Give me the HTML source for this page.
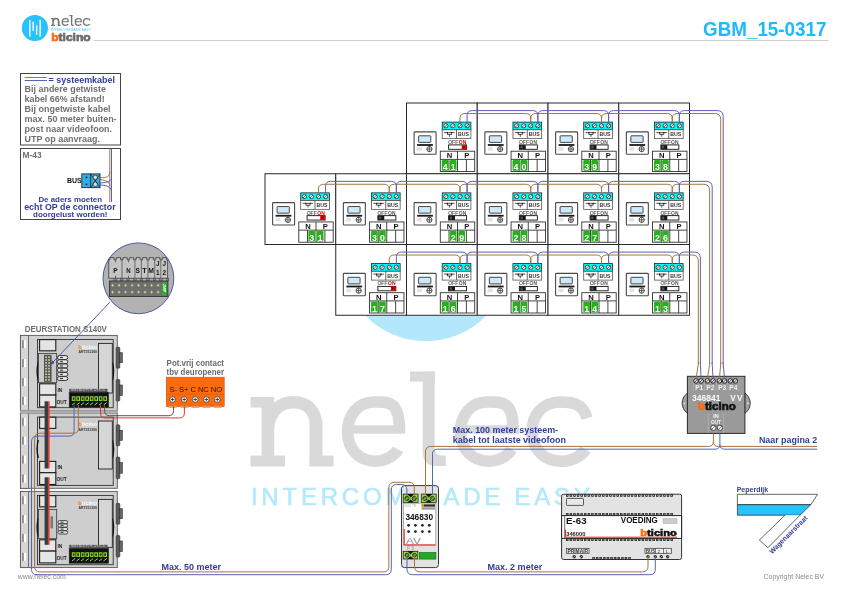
<!DOCTYPE html>
<html><head><meta charset="utf-8"><style>
html,body{margin:0;padding:0;background:#fff;width:841px;height:595px;overflow:hidden}
svg{display:block;will-change:transform}
text{font-family:"Liberation Sans",sans-serif}
</style></head><body>
<svg width="841" height="595" viewBox="0 0 841 595">
<rect x="0" y="0" width="841" height="595" fill="#fff"/>
<clipPath id="cb"><rect x="0" y="315.25" width="841" height="100"/></clipPath>
<circle cx="425.8" cy="256.8" r="84.3" fill="#b3e7fb" clip-path="url(#cb)"/>
<g fill="#d9d9d9" stroke="none">
<rect x="250.5" y="397" width="23.5" height="10.5"/>
<rect x="261.6" y="397" width="12.6" height="69"/>
<rect x="250.5" y="455.5" width="34.5" height="11"/>
<rect x="309.6" y="420" width="12.8" height="46"/>
<rect x="309.6" y="455.5" width="24" height="11"/>
</g>
<path d="M267.8 428 C270 410 281 402.3 293 402.3 C309 402.3 316 412 316 426 L316 460" fill="none" stroke="#d9d9d9" stroke-width="12.4"/>
<rect x="347.6" y="425.3" width="57.599999999999994" height="8.4" fill="#d9d9d9"/>
<path d="M399.4 429.6 C399.4 400.0 387.745 402.0 373.5 402.0 C357.96 402.0 347.6 415.32000000000005 347.6 431.6 C347.6 449.36 359.255 461.20000000000005 375.5 461.20000000000005 C387.745 461.20000000000005 395.515 453.8 398.105 449.36" fill="none" stroke="#d9d9d9" stroke-width="11.6"/>
<g fill="#d9d9d9">
<rect x="410.1" y="371.5" width="24.6" height="10.1"/>
<path d="M422.7 371.5 H434.7 V449 Q434.7 455.5 441 455.5 H445.8 V465.9 H436 Q422.7 465.9 422.7 452 Z"/>
</g>
<rect x="460.5" y="425.3" width="58.4" height="8.4" fill="#d9d9d9"/>
<path d="M513.1 429.6 C513.1 400.0 501.265 402.0 486.8 402.0 C471.02000000000004 402.0 460.5 415.32000000000005 460.5 431.6 C460.5 449.36 472.33500000000004 461.20000000000005 488.8 461.20000000000005 C501.265 461.20000000000005 509.15500000000003 453.8 511.785 449.36" fill="none" stroke="#d9d9d9" stroke-width="11.6"/>
<path d="M587.0 418.28000000000003 C582.875 402.0 570.5 402.0 559.5 402.0 C543.0 402.0 532.0 415.32000000000005 532.0 431.6 C532.0 449.36 544.375 461.20000000000005 561.5 461.20000000000005 C574.625 461.20000000000005 582.875 453.8 585.625 449.36" fill="none" stroke="#d9d9d9" stroke-width="11.6"/>
<text x="250.9" y="504.5" font-size="24" fill="#b2e9fd" stroke="#b2e9fd" stroke-width="0.55" font-weight="normal" textLength="339" lengthAdjust="spacing">INTERCOM MADE EASY</text>
<circle cx="34.9" cy="28" r="13.1" fill="#27c1fe"/>
<rect x="29.150000000000002" y="19.8" width="1.4" height="16.900000000000002" fill="#fff"/>
<rect x="32.449999999999996" y="21.8" width="1.4" height="9.099999999999998" fill="#fff"/>
<rect x="35.949999999999996" y="25.4" width="1.4" height="9.300000000000004" fill="#fff"/>
<rect x="39.449999999999996" y="19.8" width="1.4" height="16.900000000000002" fill="#fff"/>
<g transform="translate(22.094 -27.881) scale(0.1155)">
<g fill="#737373" stroke="none">
<rect x="250.5" y="397" width="23.5" height="10.5"/>
<rect x="261.6" y="397" width="12.6" height="69"/>
<rect x="250.5" y="455.5" width="34.5" height="11"/>
<rect x="309.6" y="420" width="12.8" height="46"/>
<rect x="309.6" y="455.5" width="24" height="11"/>
</g>
<path d="M267.8 428 C270 410 281 402.3 293 402.3 C309 402.3 316 412 316 426 L316 460" fill="none" stroke="#737373" stroke-width="12.4"/>
<rect x="347.6" y="425.3" width="57.599999999999994" height="8.4" fill="#737373"/>
<path d="M399.4 429.6 C399.4 400.0 387.745 402.0 373.5 402.0 C357.96 402.0 347.6 415.32000000000005 347.6 431.6 C347.6 449.36 359.255 461.20000000000005 375.5 461.20000000000005 C387.745 461.20000000000005 395.515 453.8 398.105 449.36" fill="none" stroke="#737373" stroke-width="11.6"/>
<g fill="#737373">
<rect x="410.1" y="371.5" width="24.6" height="10.1"/>
<path d="M422.7 371.5 H434.7 V449 Q434.7 455.5 441 455.5 H445.8 V465.9 H436 Q422.7 465.9 422.7 452 Z"/>
</g>
<rect x="460.5" y="425.3" width="58.4" height="8.4" fill="#737373"/>
<path d="M513.1 429.6 C513.1 400.0 501.265 402.0 486.8 402.0 C471.02000000000004 402.0 460.5 415.32000000000005 460.5 431.6 C460.5 449.36 472.33500000000004 461.20000000000005 488.8 461.20000000000005 C501.265 461.20000000000005 509.15500000000003 453.8 511.785 449.36" fill="none" stroke="#737373" stroke-width="11.6"/>
<path d="M587.0 418.28000000000003 C582.875 402.0 570.5 402.0 559.5 402.0 C543.0 402.0 532.0 415.32000000000005 532.0 431.6 C532.0 449.36 544.375 461.20000000000005 561.5 461.20000000000005 C574.625 461.20000000000005 582.875 453.8 585.625 449.36" fill="none" stroke="#737373" stroke-width="11.6"/>
</g>
<text x="51" y="30.6" font-size="2.6" fill="#4fc3f7" textLength="40" lengthAdjust="spacingAndGlyphs">INTERCOM MADE EASY</text>
<text x="51.3" y="40.8" font-size="10.5" font-weight="bold" fill="#6b6b6b" stroke="#6b6b6b" stroke-width="0.7" textLength="39.3" lengthAdjust="spacingAndGlyphs"><tspan fill="#ff6a13" stroke="#ff6a13">b</tspan>ticino</text>
<line x1="93.7" y1="40.5" x2="828.5" y2="40.5" stroke="#cfcfcf" stroke-width="1"/>
<text x="826.5" y="36" font-size="19.5" font-weight="bold" fill="#1fbaf9" text-anchor="end" textLength="123.5" lengthAdjust="spacingAndGlyphs">GBM_15-0317</text>
<rect x="20.5" y="73.5" width="100" height="71.5" fill="#fff" stroke="#444" stroke-width="1"/>
<line x1="24.7" y1="77.5" x2="46.9" y2="77.5" stroke="#a8733d" stroke-width="1"/>
<line x1="24.7" y1="80.5" x2="46.9" y2="80.5" stroke="#5863b5" stroke-width="1"/>
<text x="48.6" y="82.8" font-size="8.6" fill="#313c98" font-weight="bold" textLength="66.4" lengthAdjust="spacingAndGlyphs" >= systeemkabel</text>
<text x="24.6" y="91.6" font-size="8.5" fill="#6f6f6f" font-weight="bold" textLength="81.3" lengthAdjust="spacingAndGlyphs" >Bij andere getwiste</text>
<text x="24.6" y="101.7" font-size="8.5" fill="#6f6f6f" font-weight="bold" textLength="80" lengthAdjust="spacingAndGlyphs" >kabel 66% afstand!</text>
<text x="24.6" y="111.6" font-size="8.5" fill="#6f6f6f" font-weight="bold" textLength="86" lengthAdjust="spacingAndGlyphs" >Bij ongetwiste kabel</text>
<text x="24.6" y="121.8" font-size="8.5" fill="#6f6f6f" font-weight="bold" textLength="92" lengthAdjust="spacingAndGlyphs" >max. 50 meter buiten-</text>
<text x="24.6" y="132.2" font-size="8.5" fill="#6f6f6f" font-weight="bold" textLength="87.4" lengthAdjust="spacingAndGlyphs" >post naar videofoon.</text>
<text x="24.6" y="142.3" font-size="8.5" fill="#6f6f6f" font-weight="bold" textLength="75.3" lengthAdjust="spacingAndGlyphs" >UTP op aanvraag.</text>
<rect x="20.5" y="148.5" width="100" height="71" fill="#fff" stroke="#444" stroke-width="1"/>
<text x="22.6" y="157.9" font-size="8.4" fill="#6f6f6f" font-weight="bold" text-anchor="start" >M-43</text>
<line x1="109.8" y1="149" x2="109.8" y2="202" stroke="#a8733d" stroke-width="1"/>
<line x1="111.5" y1="149" x2="111.5" y2="202" stroke="#5863b5" stroke-width="1"/>
<path d="M99 177.5 C104 178 109.8 178 109.8 172" fill="none" stroke="#a8733d" stroke-width="1"/>
<path d="M99 179.5 C104 180 109.8 181 109.8 186" fill="none" stroke="#a8733d" stroke-width="1"/>
<path d="M99 183 C104 183 111.5 182 111.5 178" fill="none" stroke="#5863b5" stroke-width="1"/>
<path d="M99 185 C104 185 111.5 186 111.5 191" fill="none" stroke="#5863b5" stroke-width="1"/>
<rect x="81.8" y="173.9" width="18.2" height="13.8" fill="#2aaee6" stroke="#1a1a1a" stroke-width="0.8"/>
<line x1="90.6" y1="173.9" x2="90.6" y2="187.7" stroke="#1a1a1a" stroke-width="0.8"/>
<circle cx="86.5" cy="177.3" r="0.9" fill="#111"/><circle cx="86.5" cy="184.3" r="0.9" fill="#111"/>
<circle cx="95.3" cy="177.5" r="2.3" fill="#ddd" stroke="#222" stroke-width="0.6"/>
<circle cx="95.3" cy="184.2" r="2.3" fill="#ddd" stroke="#222" stroke-width="0.6"/>
<path d="M90.6 173.9 L100 187.7 M100 173.9 L90.6 187.7" stroke="#1a1a1a" stroke-width="0.6"/>
<text x="67" y="183" font-size="7" fill="#111" font-weight="bold" text-anchor="start" >BUS</text>
<text x="38.4" y="201.9" font-size="7.6" fill="#313c98" font-weight="bold" textLength="63.6" lengthAdjust="spacingAndGlyphs" >De aders moeten</text>
<text x="24.2" y="209.6" font-size="8.3" fill="#313c98" font-weight="bold" textLength="91.5" lengthAdjust="spacingAndGlyphs" >echt OP de connector</text>
<text x="33.1" y="217.3" font-size="7.6" fill="#313c98" font-weight="bold" textLength="74.3" lengthAdjust="spacingAndGlyphs" >doorgelust worden!</text>
<rect x="406.5" y="103.0" width="70.75" height="70.75" fill="#fff" stroke="#2a2a2a" stroke-width="1"/>
<rect x="414.1" y="131.9" width="22" height="22.3" rx="0.8" fill="#fff" stroke="#4a4a4a" stroke-width="1.1"/>
<rect x="418.6" y="135.8" width="12.2" height="6.6" rx="0.6" fill="#cde9fa" stroke="#333" stroke-width="0.9"/>
<rect x="417.1" y="144.1" width="15.8" height="1.8" fill="#1a1a1a"/>
<rect x="417.0" y="147.1" width="4.9" height="3.6" fill="#e2e2e2"/>
<circle cx="429.4" cy="149.1" r="2.6" fill="#fff" stroke="#222" stroke-width="0.8"/>
<path d="M429.4 145.9 V151.9 M426.8 149.1 H432.0" stroke="#222" stroke-width="0.7"/>
<rect x="442.2" y="122.1" width="28.7" height="7.7" fill="#00fafa" stroke="#222" stroke-width="0.8"/>
<circle cx="445.9" cy="125.8" r="2.1" fill="#fff" stroke="#222" stroke-width="0.8"/><line x1="444.42999999999995" y1="127.27" x2="447.37" y2="124.33" stroke="#222" stroke-width="0.7"/>
<circle cx="452.9" cy="125.8" r="2.1" fill="#fff" stroke="#222" stroke-width="0.8"/><line x1="451.42999999999995" y1="127.27" x2="454.37" y2="124.33" stroke="#222" stroke-width="0.7"/>
<circle cx="460.0" cy="125.8" r="2.1" fill="#fff" stroke="#222" stroke-width="0.8"/><line x1="458.53" y1="127.27" x2="461.47" y2="124.33" stroke="#222" stroke-width="0.7"/>
<circle cx="467.1" cy="125.8" r="2.1" fill="#fff" stroke="#222" stroke-width="0.8"/><line x1="465.63" y1="127.27" x2="468.57000000000005" y2="124.33" stroke="#222" stroke-width="0.7"/>
<rect x="442.2" y="129.8" width="28.7" height="8.8" fill="#fff" stroke="#555" stroke-width="0.8"/>
<line x1="456.5" y1="129.8" x2="456.5" y2="138.6" stroke="#444" stroke-width="0.8"/>
<path d="M444.1 132.6 H454.6 M447.4 132.6 V134.5 H451.6 V132.6 M449.5 134.5 V136.8" stroke="#1a1a1a" stroke-width="0.75" fill="none"/>
<circle cx="447.4" cy="132.6" r="0.6" fill="#000"/><circle cx="451.6" cy="132.6" r="0.6" fill="#000"/>
<text x="457.9" y="136.4" font-size="5.2" font-weight="bold" fill="#333" textLength="11" lengthAdjust="spacingAndGlyphs">BUS</text>
<text x="448.2" y="143.9" font-size="4.9" font-weight="normal" fill="#555" stroke="#555" stroke-width="0.15" textLength="10" lengthAdjust="spacingAndGlyphs">OFF</text>
<text x="458.8" y="143.9" font-size="4.9" font-weight="bold" fill="#e00000" textLength="7.4" lengthAdjust="spacingAndGlyphs">ON</text>
<rect x="448.6" y="144.9" width="18" height="4.4" fill="#fff" stroke="#111" stroke-width="0.9"/>
<rect x="461.7" y="145.1" width="4.9" height="4.1" fill="#d00"/>
<rect x="462.8" y="146.0" width="1.6" height="1.6" fill="#600"/>
<rect x="440.3" y="151.2" width="34.4" height="20.3" fill="#fff" stroke="#333" stroke-width="0.9"/>
<line x1="440.3" y1="159.4" x2="474.7" y2="159.4" stroke="#333" stroke-width="0.9"/>
<line x1="457.5" y1="151.2" x2="457.5" y2="171.5" stroke="#333" stroke-width="0.9"/>
<line x1="449.0" y1="159.4" x2="449.0" y2="171.5" stroke="#333" stroke-width="0.9"/>
<line x1="466.4" y1="159.4" x2="466.4" y2="171.5" stroke="#333" stroke-width="0.9"/>
<text x="449.5" y="158.4" font-size="7.6" font-weight="bold" fill="#111" text-anchor="middle">N</text>
<text x="466.9" y="158.4" font-size="7.6" font-weight="bold" fill="#111" text-anchor="middle">P</text>
<rect x="441.8" y="160.1" width="6.6" height="10.7" rx="1.2" fill="#23b316"/>
<text x="445.1" y="170.0" font-size="8.8" font-weight="bold" fill="#fff" text-anchor="middle">4</text>
<rect x="449.9" y="160.1" width="6.6" height="10.7" rx="1.2" fill="#23b316"/>
<text x="453.2" y="170.0" font-size="8.8" font-weight="bold" fill="#fff" text-anchor="middle">1</text>
<rect x="477.25" y="103.0" width="70.75" height="70.75" fill="#fff" stroke="#2a2a2a" stroke-width="1"/>
<rect x="484.85" y="131.9" width="22" height="22.3" rx="0.8" fill="#fff" stroke="#4a4a4a" stroke-width="1.1"/>
<rect x="489.35" y="135.8" width="12.2" height="6.6" rx="0.6" fill="#cde9fa" stroke="#333" stroke-width="0.9"/>
<rect x="487.85" y="144.1" width="15.8" height="1.8" fill="#1a1a1a"/>
<rect x="487.75" y="147.1" width="4.9" height="3.6" fill="#e2e2e2"/>
<circle cx="500.15" cy="149.1" r="2.6" fill="#fff" stroke="#222" stroke-width="0.8"/>
<path d="M500.15 145.9 V151.9 M497.55 149.1 H502.75" stroke="#222" stroke-width="0.7"/>
<rect x="512.95" y="122.1" width="28.7" height="7.7" fill="#00fafa" stroke="#222" stroke-width="0.8"/>
<circle cx="516.65" cy="125.8" r="2.1" fill="#fff" stroke="#222" stroke-width="0.8"/><line x1="515.18" y1="127.27" x2="518.12" y2="124.33" stroke="#222" stroke-width="0.7"/>
<circle cx="523.65" cy="125.8" r="2.1" fill="#fff" stroke="#222" stroke-width="0.8"/><line x1="522.18" y1="127.27" x2="525.12" y2="124.33" stroke="#222" stroke-width="0.7"/>
<circle cx="530.75" cy="125.8" r="2.1" fill="#fff" stroke="#222" stroke-width="0.8"/><line x1="529.28" y1="127.27" x2="532.22" y2="124.33" stroke="#222" stroke-width="0.7"/>
<circle cx="537.85" cy="125.8" r="2.1" fill="#fff" stroke="#222" stroke-width="0.8"/><line x1="536.38" y1="127.27" x2="539.32" y2="124.33" stroke="#222" stroke-width="0.7"/>
<rect x="512.95" y="129.8" width="28.7" height="8.8" fill="#fff" stroke="#555" stroke-width="0.8"/>
<line x1="527.25" y1="129.8" x2="527.25" y2="138.6" stroke="#444" stroke-width="0.8"/>
<path d="M514.85 132.6 H525.35 M518.15 132.6 V134.5 H522.35 V132.6 M520.25 134.5 V136.8" stroke="#1a1a1a" stroke-width="0.75" fill="none"/>
<circle cx="518.15" cy="132.6" r="0.6" fill="#000"/><circle cx="522.35" cy="132.6" r="0.6" fill="#000"/>
<text x="528.65" y="136.4" font-size="5.2" font-weight="bold" fill="#333" textLength="11" lengthAdjust="spacingAndGlyphs">BUS</text>
<text x="518.95" y="143.9" font-size="4.9" font-weight="normal" fill="#555" stroke="#555" stroke-width="0.15" textLength="10" lengthAdjust="spacingAndGlyphs">OFF</text>
<text x="529.55" y="143.9" font-size="4.9" font-weight="bold" fill="#555" textLength="7.4" lengthAdjust="spacingAndGlyphs">ON</text>
<rect x="519.35" y="144.9" width="18" height="4.4" fill="#fff" stroke="#111" stroke-width="0.9"/>
<rect x="519.55" y="145.1" width="6.2" height="4.1" fill="#161616"/>
<rect x="520.55" y="145.9" width="2.2" height="2.4" fill="#555"/>
<rect x="511.05" y="151.2" width="34.4" height="20.3" fill="#fff" stroke="#333" stroke-width="0.9"/>
<line x1="511.05" y1="159.4" x2="545.45" y2="159.4" stroke="#333" stroke-width="0.9"/>
<line x1="528.25" y1="151.2" x2="528.25" y2="171.5" stroke="#333" stroke-width="0.9"/>
<line x1="519.75" y1="159.4" x2="519.75" y2="171.5" stroke="#333" stroke-width="0.9"/>
<line x1="537.15" y1="159.4" x2="537.15" y2="171.5" stroke="#333" stroke-width="0.9"/>
<text x="520.25" y="158.4" font-size="7.6" font-weight="bold" fill="#111" text-anchor="middle">N</text>
<text x="537.65" y="158.4" font-size="7.6" font-weight="bold" fill="#111" text-anchor="middle">P</text>
<rect x="512.55" y="160.1" width="6.6" height="10.7" rx="1.2" fill="#23b316"/>
<text x="515.85" y="170.0" font-size="8.8" font-weight="bold" fill="#fff" text-anchor="middle">4</text>
<rect x="520.65" y="160.1" width="6.6" height="10.7" rx="1.2" fill="#23b316"/>
<text x="523.95" y="170.0" font-size="8.8" font-weight="bold" fill="#fff" text-anchor="middle">0</text>
<rect x="548.0" y="103.0" width="70.75" height="70.75" fill="#fff" stroke="#2a2a2a" stroke-width="1"/>
<rect x="555.6" y="131.9" width="22" height="22.3" rx="0.8" fill="#fff" stroke="#4a4a4a" stroke-width="1.1"/>
<rect x="560.1" y="135.8" width="12.2" height="6.6" rx="0.6" fill="#cde9fa" stroke="#333" stroke-width="0.9"/>
<rect x="558.6" y="144.1" width="15.8" height="1.8" fill="#1a1a1a"/>
<rect x="558.5" y="147.1" width="4.9" height="3.6" fill="#e2e2e2"/>
<circle cx="570.9" cy="149.1" r="2.6" fill="#fff" stroke="#222" stroke-width="0.8"/>
<path d="M570.9 145.9 V151.9 M568.3 149.1 H573.5" stroke="#222" stroke-width="0.7"/>
<rect x="583.7" y="122.1" width="28.7" height="7.7" fill="#00fafa" stroke="#222" stroke-width="0.8"/>
<circle cx="587.4" cy="125.8" r="2.1" fill="#fff" stroke="#222" stroke-width="0.8"/><line x1="585.93" y1="127.27" x2="588.87" y2="124.33" stroke="#222" stroke-width="0.7"/>
<circle cx="594.4" cy="125.8" r="2.1" fill="#fff" stroke="#222" stroke-width="0.8"/><line x1="592.93" y1="127.27" x2="595.87" y2="124.33" stroke="#222" stroke-width="0.7"/>
<circle cx="601.5" cy="125.8" r="2.1" fill="#fff" stroke="#222" stroke-width="0.8"/><line x1="600.03" y1="127.27" x2="602.97" y2="124.33" stroke="#222" stroke-width="0.7"/>
<circle cx="608.6" cy="125.8" r="2.1" fill="#fff" stroke="#222" stroke-width="0.8"/><line x1="607.13" y1="127.27" x2="610.07" y2="124.33" stroke="#222" stroke-width="0.7"/>
<rect x="583.7" y="129.8" width="28.7" height="8.8" fill="#fff" stroke="#555" stroke-width="0.8"/>
<line x1="598.0" y1="129.8" x2="598.0" y2="138.6" stroke="#444" stroke-width="0.8"/>
<path d="M585.6 132.6 H596.1 M588.9 132.6 V134.5 H593.1 V132.6 M591.0 134.5 V136.8" stroke="#1a1a1a" stroke-width="0.75" fill="none"/>
<circle cx="588.9" cy="132.6" r="0.6" fill="#000"/><circle cx="593.1" cy="132.6" r="0.6" fill="#000"/>
<text x="599.4" y="136.4" font-size="5.2" font-weight="bold" fill="#333" textLength="11" lengthAdjust="spacingAndGlyphs">BUS</text>
<text x="589.7" y="143.9" font-size="4.9" font-weight="normal" fill="#555" stroke="#555" stroke-width="0.15" textLength="10" lengthAdjust="spacingAndGlyphs">OFF</text>
<text x="600.3" y="143.9" font-size="4.9" font-weight="bold" fill="#555" textLength="7.4" lengthAdjust="spacingAndGlyphs">ON</text>
<rect x="590.1" y="144.9" width="18" height="4.4" fill="#fff" stroke="#111" stroke-width="0.9"/>
<rect x="590.3" y="145.1" width="6.2" height="4.1" fill="#161616"/>
<rect x="591.3" y="145.9" width="2.2" height="2.4" fill="#555"/>
<rect x="581.8" y="151.2" width="34.4" height="20.3" fill="#fff" stroke="#333" stroke-width="0.9"/>
<line x1="581.8" y1="159.4" x2="616.2" y2="159.4" stroke="#333" stroke-width="0.9"/>
<line x1="599.0" y1="151.2" x2="599.0" y2="171.5" stroke="#333" stroke-width="0.9"/>
<line x1="590.5" y1="159.4" x2="590.5" y2="171.5" stroke="#333" stroke-width="0.9"/>
<line x1="607.9" y1="159.4" x2="607.9" y2="171.5" stroke="#333" stroke-width="0.9"/>
<text x="591.0" y="158.4" font-size="7.6" font-weight="bold" fill="#111" text-anchor="middle">N</text>
<text x="608.4" y="158.4" font-size="7.6" font-weight="bold" fill="#111" text-anchor="middle">P</text>
<rect x="583.3" y="160.1" width="6.6" height="10.7" rx="1.2" fill="#23b316"/>
<text x="586.6" y="170.0" font-size="8.8" font-weight="bold" fill="#fff" text-anchor="middle">3</text>
<rect x="591.4" y="160.1" width="6.6" height="10.7" rx="1.2" fill="#23b316"/>
<text x="594.7" y="170.0" font-size="8.8" font-weight="bold" fill="#fff" text-anchor="middle">9</text>
<rect x="618.75" y="103.0" width="70.75" height="70.75" fill="#fff" stroke="#2a2a2a" stroke-width="1"/>
<rect x="626.35" y="131.9" width="22" height="22.3" rx="0.8" fill="#fff" stroke="#4a4a4a" stroke-width="1.1"/>
<rect x="630.85" y="135.8" width="12.2" height="6.6" rx="0.6" fill="#cde9fa" stroke="#333" stroke-width="0.9"/>
<rect x="629.35" y="144.1" width="15.8" height="1.8" fill="#1a1a1a"/>
<rect x="629.25" y="147.1" width="4.9" height="3.6" fill="#e2e2e2"/>
<circle cx="641.65" cy="149.1" r="2.6" fill="#fff" stroke="#222" stroke-width="0.8"/>
<path d="M641.65 145.9 V151.9 M639.05 149.1 H644.25" stroke="#222" stroke-width="0.7"/>
<rect x="654.45" y="122.1" width="28.7" height="7.7" fill="#00fafa" stroke="#222" stroke-width="0.8"/>
<circle cx="658.15" cy="125.8" r="2.1" fill="#fff" stroke="#222" stroke-width="0.8"/><line x1="656.68" y1="127.27" x2="659.62" y2="124.33" stroke="#222" stroke-width="0.7"/>
<circle cx="665.15" cy="125.8" r="2.1" fill="#fff" stroke="#222" stroke-width="0.8"/><line x1="663.68" y1="127.27" x2="666.62" y2="124.33" stroke="#222" stroke-width="0.7"/>
<circle cx="672.25" cy="125.8" r="2.1" fill="#fff" stroke="#222" stroke-width="0.8"/><line x1="670.78" y1="127.27" x2="673.72" y2="124.33" stroke="#222" stroke-width="0.7"/>
<circle cx="679.35" cy="125.8" r="2.1" fill="#fff" stroke="#222" stroke-width="0.8"/><line x1="677.88" y1="127.27" x2="680.82" y2="124.33" stroke="#222" stroke-width="0.7"/>
<rect x="654.45" y="129.8" width="28.7" height="8.8" fill="#fff" stroke="#555" stroke-width="0.8"/>
<line x1="668.75" y1="129.8" x2="668.75" y2="138.6" stroke="#444" stroke-width="0.8"/>
<path d="M656.35 132.6 H666.85 M659.65 132.6 V134.5 H663.85 V132.6 M661.75 134.5 V136.8" stroke="#1a1a1a" stroke-width="0.75" fill="none"/>
<circle cx="659.65" cy="132.6" r="0.6" fill="#000"/><circle cx="663.85" cy="132.6" r="0.6" fill="#000"/>
<text x="670.15" y="136.4" font-size="5.2" font-weight="bold" fill="#333" textLength="11" lengthAdjust="spacingAndGlyphs">BUS</text>
<text x="660.45" y="143.9" font-size="4.9" font-weight="normal" fill="#555" stroke="#555" stroke-width="0.15" textLength="10" lengthAdjust="spacingAndGlyphs">OFF</text>
<text x="671.05" y="143.9" font-size="4.9" font-weight="bold" fill="#555" textLength="7.4" lengthAdjust="spacingAndGlyphs">ON</text>
<rect x="660.85" y="144.9" width="18" height="4.4" fill="#fff" stroke="#111" stroke-width="0.9"/>
<rect x="661.05" y="145.1" width="6.2" height="4.1" fill="#161616"/>
<rect x="662.05" y="145.9" width="2.2" height="2.4" fill="#555"/>
<rect x="652.55" y="151.2" width="34.4" height="20.3" fill="#fff" stroke="#333" stroke-width="0.9"/>
<line x1="652.55" y1="159.4" x2="686.95" y2="159.4" stroke="#333" stroke-width="0.9"/>
<line x1="669.75" y1="151.2" x2="669.75" y2="171.5" stroke="#333" stroke-width="0.9"/>
<line x1="661.25" y1="159.4" x2="661.25" y2="171.5" stroke="#333" stroke-width="0.9"/>
<line x1="678.65" y1="159.4" x2="678.65" y2="171.5" stroke="#333" stroke-width="0.9"/>
<text x="661.75" y="158.4" font-size="7.6" font-weight="bold" fill="#111" text-anchor="middle">N</text>
<text x="679.15" y="158.4" font-size="7.6" font-weight="bold" fill="#111" text-anchor="middle">P</text>
<rect x="654.05" y="160.1" width="6.6" height="10.7" rx="1.2" fill="#23b316"/>
<text x="657.35" y="170.0" font-size="8.8" font-weight="bold" fill="#fff" text-anchor="middle">3</text>
<rect x="662.15" y="160.1" width="6.6" height="10.7" rx="1.2" fill="#23b316"/>
<text x="665.45" y="170.0" font-size="8.8" font-weight="bold" fill="#fff" text-anchor="middle">8</text>
<rect x="265.0" y="173.75" width="70.75" height="70.75" fill="#fff" stroke="#2a2a2a" stroke-width="1"/>
<rect x="272.6" y="202.65" width="22" height="22.3" rx="0.8" fill="#fff" stroke="#4a4a4a" stroke-width="1.1"/>
<rect x="277.1" y="206.55" width="12.2" height="6.6" rx="0.6" fill="#cde9fa" stroke="#333" stroke-width="0.9"/>
<rect x="275.6" y="214.85" width="15.8" height="1.8" fill="#1a1a1a"/>
<rect x="275.5" y="217.85" width="4.9" height="3.6" fill="#e2e2e2"/>
<circle cx="287.9" cy="219.85" r="2.6" fill="#fff" stroke="#222" stroke-width="0.8"/>
<path d="M287.9 216.65 V222.65 M285.3 219.85 H290.5" stroke="#222" stroke-width="0.7"/>
<rect x="300.7" y="192.85" width="28.7" height="7.7" fill="#00fafa" stroke="#222" stroke-width="0.8"/>
<circle cx="304.4" cy="196.55" r="2.1" fill="#fff" stroke="#222" stroke-width="0.8"/><line x1="302.92999999999995" y1="198.02" x2="305.87" y2="195.08" stroke="#222" stroke-width="0.7"/>
<circle cx="311.4" cy="196.55" r="2.1" fill="#fff" stroke="#222" stroke-width="0.8"/><line x1="309.92999999999995" y1="198.02" x2="312.87" y2="195.08" stroke="#222" stroke-width="0.7"/>
<circle cx="318.5" cy="196.55" r="2.1" fill="#fff" stroke="#222" stroke-width="0.8"/><line x1="317.03" y1="198.02" x2="319.97" y2="195.08" stroke="#222" stroke-width="0.7"/>
<circle cx="325.6" cy="196.55" r="2.1" fill="#fff" stroke="#222" stroke-width="0.8"/><line x1="324.13" y1="198.02" x2="327.07000000000005" y2="195.08" stroke="#222" stroke-width="0.7"/>
<rect x="300.7" y="200.55" width="28.7" height="8.8" fill="#fff" stroke="#555" stroke-width="0.8"/>
<line x1="315.0" y1="200.55" x2="315.0" y2="209.35" stroke="#444" stroke-width="0.8"/>
<path d="M302.6 203.35 H313.1 M305.9 203.35 V205.25 H310.1 V203.35 M308.0 205.25 V207.55" stroke="#1a1a1a" stroke-width="0.75" fill="none"/>
<circle cx="305.9" cy="203.35" r="0.6" fill="#000"/><circle cx="310.1" cy="203.35" r="0.6" fill="#000"/>
<text x="316.4" y="207.15" font-size="5.2" font-weight="bold" fill="#333" textLength="11" lengthAdjust="spacingAndGlyphs">BUS</text>
<text x="306.7" y="214.65" font-size="4.9" font-weight="normal" fill="#555" stroke="#555" stroke-width="0.15" textLength="10" lengthAdjust="spacingAndGlyphs">OFF</text>
<text x="317.3" y="214.65" font-size="4.9" font-weight="bold" fill="#e00000" textLength="7.4" lengthAdjust="spacingAndGlyphs">ON</text>
<rect x="307.1" y="215.65" width="18" height="4.4" fill="#fff" stroke="#111" stroke-width="0.9"/>
<rect x="320.2" y="215.85" width="4.9" height="4.1" fill="#d00"/>
<rect x="321.3" y="216.75" width="1.6" height="1.6" fill="#600"/>
<rect x="298.8" y="221.95" width="34.4" height="20.3" fill="#fff" stroke="#333" stroke-width="0.9"/>
<line x1="298.8" y1="230.15" x2="333.2" y2="230.15" stroke="#333" stroke-width="0.9"/>
<line x1="316.0" y1="221.95" x2="316.0" y2="242.25" stroke="#333" stroke-width="0.9"/>
<line x1="307.5" y1="230.15" x2="307.5" y2="242.25" stroke="#333" stroke-width="0.9"/>
<line x1="324.9" y1="230.15" x2="324.9" y2="242.25" stroke="#333" stroke-width="0.9"/>
<text x="308.0" y="229.15" font-size="7.6" font-weight="bold" fill="#111" text-anchor="middle">N</text>
<text x="325.4" y="229.15" font-size="7.6" font-weight="bold" fill="#111" text-anchor="middle">P</text>
<rect x="308.4" y="230.85" width="6.6" height="10.7" rx="1.2" fill="#23b316"/>
<text x="311.7" y="240.75" font-size="8.8" font-weight="bold" fill="#fff" text-anchor="middle">3</text>
<rect x="316.9" y="230.85" width="6.6" height="10.7" rx="1.2" fill="#23b316"/>
<text x="320.2" y="240.75" font-size="8.8" font-weight="bold" fill="#fff" text-anchor="middle">1</text>
<rect x="335.75" y="173.75" width="70.75" height="70.75" fill="#fff" stroke="#2a2a2a" stroke-width="1"/>
<rect x="343.35" y="202.65" width="22" height="22.3" rx="0.8" fill="#fff" stroke="#4a4a4a" stroke-width="1.1"/>
<rect x="347.85" y="206.55" width="12.2" height="6.6" rx="0.6" fill="#cde9fa" stroke="#333" stroke-width="0.9"/>
<rect x="346.35" y="214.85" width="15.8" height="1.8" fill="#1a1a1a"/>
<rect x="346.25" y="217.85" width="4.9" height="3.6" fill="#e2e2e2"/>
<circle cx="358.65" cy="219.85" r="2.6" fill="#fff" stroke="#222" stroke-width="0.8"/>
<path d="M358.65 216.65 V222.65 M356.05 219.85 H361.25" stroke="#222" stroke-width="0.7"/>
<rect x="371.45" y="192.85" width="28.7" height="7.7" fill="#00fafa" stroke="#222" stroke-width="0.8"/>
<circle cx="375.15" cy="196.55" r="2.1" fill="#fff" stroke="#222" stroke-width="0.8"/><line x1="373.67999999999995" y1="198.02" x2="376.62" y2="195.08" stroke="#222" stroke-width="0.7"/>
<circle cx="382.15" cy="196.55" r="2.1" fill="#fff" stroke="#222" stroke-width="0.8"/><line x1="380.67999999999995" y1="198.02" x2="383.62" y2="195.08" stroke="#222" stroke-width="0.7"/>
<circle cx="389.25" cy="196.55" r="2.1" fill="#fff" stroke="#222" stroke-width="0.8"/><line x1="387.78" y1="198.02" x2="390.72" y2="195.08" stroke="#222" stroke-width="0.7"/>
<circle cx="396.35" cy="196.55" r="2.1" fill="#fff" stroke="#222" stroke-width="0.8"/><line x1="394.88" y1="198.02" x2="397.82000000000005" y2="195.08" stroke="#222" stroke-width="0.7"/>
<rect x="371.45" y="200.55" width="28.7" height="8.8" fill="#fff" stroke="#555" stroke-width="0.8"/>
<line x1="385.75" y1="200.55" x2="385.75" y2="209.35" stroke="#444" stroke-width="0.8"/>
<path d="M373.35 203.35 H383.85 M376.65 203.35 V205.25 H380.85 V203.35 M378.75 205.25 V207.55" stroke="#1a1a1a" stroke-width="0.75" fill="none"/>
<circle cx="376.65" cy="203.35" r="0.6" fill="#000"/><circle cx="380.85" cy="203.35" r="0.6" fill="#000"/>
<text x="387.15" y="207.15" font-size="5.2" font-weight="bold" fill="#333" textLength="11" lengthAdjust="spacingAndGlyphs">BUS</text>
<text x="377.45" y="214.65" font-size="4.9" font-weight="normal" fill="#555" stroke="#555" stroke-width="0.15" textLength="10" lengthAdjust="spacingAndGlyphs">OFF</text>
<text x="388.05" y="214.65" font-size="4.9" font-weight="bold" fill="#555" textLength="7.4" lengthAdjust="spacingAndGlyphs">ON</text>
<rect x="377.85" y="215.65" width="18" height="4.4" fill="#fff" stroke="#111" stroke-width="0.9"/>
<rect x="378.05" y="215.85" width="6.2" height="4.1" fill="#161616"/>
<rect x="379.05" y="216.65" width="2.2" height="2.4" fill="#555"/>
<rect x="369.55" y="221.95" width="34.4" height="20.3" fill="#fff" stroke="#333" stroke-width="0.9"/>
<line x1="369.55" y1="230.15" x2="403.95" y2="230.15" stroke="#333" stroke-width="0.9"/>
<line x1="386.75" y1="221.95" x2="386.75" y2="242.25" stroke="#333" stroke-width="0.9"/>
<line x1="378.25" y1="230.15" x2="378.25" y2="242.25" stroke="#333" stroke-width="0.9"/>
<line x1="395.65" y1="230.15" x2="395.65" y2="242.25" stroke="#333" stroke-width="0.9"/>
<text x="378.75" y="229.15" font-size="7.6" font-weight="bold" fill="#111" text-anchor="middle">N</text>
<text x="396.15" y="229.15" font-size="7.6" font-weight="bold" fill="#111" text-anchor="middle">P</text>
<rect x="371.05" y="230.85" width="6.6" height="10.7" rx="1.2" fill="#23b316"/>
<text x="374.35" y="240.75" font-size="8.8" font-weight="bold" fill="#fff" text-anchor="middle">3</text>
<rect x="379.15" y="230.85" width="6.6" height="10.7" rx="1.2" fill="#23b316"/>
<text x="382.45" y="240.75" font-size="8.8" font-weight="bold" fill="#fff" text-anchor="middle">0</text>
<rect x="406.5" y="173.75" width="70.75" height="70.75" fill="#fff" stroke="#2a2a2a" stroke-width="1"/>
<rect x="414.1" y="202.65" width="22" height="22.3" rx="0.8" fill="#fff" stroke="#4a4a4a" stroke-width="1.1"/>
<rect x="418.6" y="206.55" width="12.2" height="6.6" rx="0.6" fill="#cde9fa" stroke="#333" stroke-width="0.9"/>
<rect x="417.1" y="214.85" width="15.8" height="1.8" fill="#1a1a1a"/>
<rect x="417.0" y="217.85" width="4.9" height="3.6" fill="#e2e2e2"/>
<circle cx="429.4" cy="219.85" r="2.6" fill="#fff" stroke="#222" stroke-width="0.8"/>
<path d="M429.4 216.65 V222.65 M426.8 219.85 H432.0" stroke="#222" stroke-width="0.7"/>
<rect x="442.2" y="192.85" width="28.7" height="7.7" fill="#00fafa" stroke="#222" stroke-width="0.8"/>
<circle cx="445.9" cy="196.55" r="2.1" fill="#fff" stroke="#222" stroke-width="0.8"/><line x1="444.42999999999995" y1="198.02" x2="447.37" y2="195.08" stroke="#222" stroke-width="0.7"/>
<circle cx="452.9" cy="196.55" r="2.1" fill="#fff" stroke="#222" stroke-width="0.8"/><line x1="451.42999999999995" y1="198.02" x2="454.37" y2="195.08" stroke="#222" stroke-width="0.7"/>
<circle cx="460.0" cy="196.55" r="2.1" fill="#fff" stroke="#222" stroke-width="0.8"/><line x1="458.53" y1="198.02" x2="461.47" y2="195.08" stroke="#222" stroke-width="0.7"/>
<circle cx="467.1" cy="196.55" r="2.1" fill="#fff" stroke="#222" stroke-width="0.8"/><line x1="465.63" y1="198.02" x2="468.57000000000005" y2="195.08" stroke="#222" stroke-width="0.7"/>
<rect x="442.2" y="200.55" width="28.7" height="8.8" fill="#fff" stroke="#555" stroke-width="0.8"/>
<line x1="456.5" y1="200.55" x2="456.5" y2="209.35" stroke="#444" stroke-width="0.8"/>
<path d="M444.1 203.35 H454.6 M447.4 203.35 V205.25 H451.6 V203.35 M449.5 205.25 V207.55" stroke="#1a1a1a" stroke-width="0.75" fill="none"/>
<circle cx="447.4" cy="203.35" r="0.6" fill="#000"/><circle cx="451.6" cy="203.35" r="0.6" fill="#000"/>
<text x="457.9" y="207.15" font-size="5.2" font-weight="bold" fill="#333" textLength="11" lengthAdjust="spacingAndGlyphs">BUS</text>
<text x="448.2" y="214.65" font-size="4.9" font-weight="normal" fill="#555" stroke="#555" stroke-width="0.15" textLength="10" lengthAdjust="spacingAndGlyphs">OFF</text>
<text x="458.8" y="214.65" font-size="4.9" font-weight="bold" fill="#555" textLength="7.4" lengthAdjust="spacingAndGlyphs">ON</text>
<rect x="448.6" y="215.65" width="18" height="4.4" fill="#fff" stroke="#111" stroke-width="0.9"/>
<rect x="448.8" y="215.85" width="6.2" height="4.1" fill="#161616"/>
<rect x="449.8" y="216.65" width="2.2" height="2.4" fill="#555"/>
<rect x="440.3" y="221.95" width="34.4" height="20.3" fill="#fff" stroke="#333" stroke-width="0.9"/>
<line x1="440.3" y1="230.15" x2="474.7" y2="230.15" stroke="#333" stroke-width="0.9"/>
<line x1="457.5" y1="221.95" x2="457.5" y2="242.25" stroke="#333" stroke-width="0.9"/>
<line x1="449.0" y1="230.15" x2="449.0" y2="242.25" stroke="#333" stroke-width="0.9"/>
<line x1="466.4" y1="230.15" x2="466.4" y2="242.25" stroke="#333" stroke-width="0.9"/>
<text x="449.5" y="229.15" font-size="7.6" font-weight="bold" fill="#111" text-anchor="middle">N</text>
<text x="466.9" y="229.15" font-size="7.6" font-weight="bold" fill="#111" text-anchor="middle">P</text>
<rect x="449.9" y="230.85" width="6.6" height="10.7" rx="1.2" fill="#23b316"/>
<text x="453.2" y="240.75" font-size="8.8" font-weight="bold" fill="#fff" text-anchor="middle">2</text>
<rect x="458.4" y="230.85" width="6.6" height="10.7" rx="1.2" fill="#23b316"/>
<text x="461.7" y="240.75" font-size="8.8" font-weight="bold" fill="#fff" text-anchor="middle">9</text>
<rect x="477.25" y="173.75" width="70.75" height="70.75" fill="#fff" stroke="#2a2a2a" stroke-width="1"/>
<rect x="484.85" y="202.65" width="22" height="22.3" rx="0.8" fill="#fff" stroke="#4a4a4a" stroke-width="1.1"/>
<rect x="489.35" y="206.55" width="12.2" height="6.6" rx="0.6" fill="#cde9fa" stroke="#333" stroke-width="0.9"/>
<rect x="487.85" y="214.85" width="15.8" height="1.8" fill="#1a1a1a"/>
<rect x="487.75" y="217.85" width="4.9" height="3.6" fill="#e2e2e2"/>
<circle cx="500.15" cy="219.85" r="2.6" fill="#fff" stroke="#222" stroke-width="0.8"/>
<path d="M500.15 216.65 V222.65 M497.55 219.85 H502.75" stroke="#222" stroke-width="0.7"/>
<rect x="512.95" y="192.85" width="28.7" height="7.7" fill="#00fafa" stroke="#222" stroke-width="0.8"/>
<circle cx="516.65" cy="196.55" r="2.1" fill="#fff" stroke="#222" stroke-width="0.8"/><line x1="515.18" y1="198.02" x2="518.12" y2="195.08" stroke="#222" stroke-width="0.7"/>
<circle cx="523.65" cy="196.55" r="2.1" fill="#fff" stroke="#222" stroke-width="0.8"/><line x1="522.18" y1="198.02" x2="525.12" y2="195.08" stroke="#222" stroke-width="0.7"/>
<circle cx="530.75" cy="196.55" r="2.1" fill="#fff" stroke="#222" stroke-width="0.8"/><line x1="529.28" y1="198.02" x2="532.22" y2="195.08" stroke="#222" stroke-width="0.7"/>
<circle cx="537.85" cy="196.55" r="2.1" fill="#fff" stroke="#222" stroke-width="0.8"/><line x1="536.38" y1="198.02" x2="539.32" y2="195.08" stroke="#222" stroke-width="0.7"/>
<rect x="512.95" y="200.55" width="28.7" height="8.8" fill="#fff" stroke="#555" stroke-width="0.8"/>
<line x1="527.25" y1="200.55" x2="527.25" y2="209.35" stroke="#444" stroke-width="0.8"/>
<path d="M514.85 203.35 H525.35 M518.15 203.35 V205.25 H522.35 V203.35 M520.25 205.25 V207.55" stroke="#1a1a1a" stroke-width="0.75" fill="none"/>
<circle cx="518.15" cy="203.35" r="0.6" fill="#000"/><circle cx="522.35" cy="203.35" r="0.6" fill="#000"/>
<text x="528.65" y="207.15" font-size="5.2" font-weight="bold" fill="#333" textLength="11" lengthAdjust="spacingAndGlyphs">BUS</text>
<text x="518.95" y="214.65" font-size="4.9" font-weight="normal" fill="#555" stroke="#555" stroke-width="0.15" textLength="10" lengthAdjust="spacingAndGlyphs">OFF</text>
<text x="529.55" y="214.65" font-size="4.9" font-weight="bold" fill="#555" textLength="7.4" lengthAdjust="spacingAndGlyphs">ON</text>
<rect x="519.35" y="215.65" width="18" height="4.4" fill="#fff" stroke="#111" stroke-width="0.9"/>
<rect x="519.55" y="215.85" width="6.2" height="4.1" fill="#161616"/>
<rect x="520.55" y="216.65" width="2.2" height="2.4" fill="#555"/>
<rect x="511.05" y="221.95" width="34.4" height="20.3" fill="#fff" stroke="#333" stroke-width="0.9"/>
<line x1="511.05" y1="230.15" x2="545.45" y2="230.15" stroke="#333" stroke-width="0.9"/>
<line x1="528.25" y1="221.95" x2="528.25" y2="242.25" stroke="#333" stroke-width="0.9"/>
<line x1="519.75" y1="230.15" x2="519.75" y2="242.25" stroke="#333" stroke-width="0.9"/>
<line x1="537.15" y1="230.15" x2="537.15" y2="242.25" stroke="#333" stroke-width="0.9"/>
<text x="520.25" y="229.15" font-size="7.6" font-weight="bold" fill="#111" text-anchor="middle">N</text>
<text x="537.65" y="229.15" font-size="7.6" font-weight="bold" fill="#111" text-anchor="middle">P</text>
<rect x="512.55" y="230.85" width="6.6" height="10.7" rx="1.2" fill="#23b316"/>
<text x="515.85" y="240.75" font-size="8.8" font-weight="bold" fill="#fff" text-anchor="middle">2</text>
<rect x="520.65" y="230.85" width="6.6" height="10.7" rx="1.2" fill="#23b316"/>
<text x="523.95" y="240.75" font-size="8.8" font-weight="bold" fill="#fff" text-anchor="middle">8</text>
<rect x="548.0" y="173.75" width="70.75" height="70.75" fill="#fff" stroke="#2a2a2a" stroke-width="1"/>
<rect x="555.6" y="202.65" width="22" height="22.3" rx="0.8" fill="#fff" stroke="#4a4a4a" stroke-width="1.1"/>
<rect x="560.1" y="206.55" width="12.2" height="6.6" rx="0.6" fill="#cde9fa" stroke="#333" stroke-width="0.9"/>
<rect x="558.6" y="214.85" width="15.8" height="1.8" fill="#1a1a1a"/>
<rect x="558.5" y="217.85" width="4.9" height="3.6" fill="#e2e2e2"/>
<circle cx="570.9" cy="219.85" r="2.6" fill="#fff" stroke="#222" stroke-width="0.8"/>
<path d="M570.9 216.65 V222.65 M568.3 219.85 H573.5" stroke="#222" stroke-width="0.7"/>
<rect x="583.7" y="192.85" width="28.7" height="7.7" fill="#00fafa" stroke="#222" stroke-width="0.8"/>
<circle cx="587.4" cy="196.55" r="2.1" fill="#fff" stroke="#222" stroke-width="0.8"/><line x1="585.93" y1="198.02" x2="588.87" y2="195.08" stroke="#222" stroke-width="0.7"/>
<circle cx="594.4" cy="196.55" r="2.1" fill="#fff" stroke="#222" stroke-width="0.8"/><line x1="592.93" y1="198.02" x2="595.87" y2="195.08" stroke="#222" stroke-width="0.7"/>
<circle cx="601.5" cy="196.55" r="2.1" fill="#fff" stroke="#222" stroke-width="0.8"/><line x1="600.03" y1="198.02" x2="602.97" y2="195.08" stroke="#222" stroke-width="0.7"/>
<circle cx="608.6" cy="196.55" r="2.1" fill="#fff" stroke="#222" stroke-width="0.8"/><line x1="607.13" y1="198.02" x2="610.07" y2="195.08" stroke="#222" stroke-width="0.7"/>
<rect x="583.7" y="200.55" width="28.7" height="8.8" fill="#fff" stroke="#555" stroke-width="0.8"/>
<line x1="598.0" y1="200.55" x2="598.0" y2="209.35" stroke="#444" stroke-width="0.8"/>
<path d="M585.6 203.35 H596.1 M588.9 203.35 V205.25 H593.1 V203.35 M591.0 205.25 V207.55" stroke="#1a1a1a" stroke-width="0.75" fill="none"/>
<circle cx="588.9" cy="203.35" r="0.6" fill="#000"/><circle cx="593.1" cy="203.35" r="0.6" fill="#000"/>
<text x="599.4" y="207.15" font-size="5.2" font-weight="bold" fill="#333" textLength="11" lengthAdjust="spacingAndGlyphs">BUS</text>
<text x="589.7" y="214.65" font-size="4.9" font-weight="normal" fill="#555" stroke="#555" stroke-width="0.15" textLength="10" lengthAdjust="spacingAndGlyphs">OFF</text>
<text x="600.3" y="214.65" font-size="4.9" font-weight="bold" fill="#555" textLength="7.4" lengthAdjust="spacingAndGlyphs">ON</text>
<rect x="590.1" y="215.65" width="18" height="4.4" fill="#fff" stroke="#111" stroke-width="0.9"/>
<rect x="590.3" y="215.85" width="6.2" height="4.1" fill="#161616"/>
<rect x="591.3" y="216.65" width="2.2" height="2.4" fill="#555"/>
<rect x="581.8" y="221.95" width="34.4" height="20.3" fill="#fff" stroke="#333" stroke-width="0.9"/>
<line x1="581.8" y1="230.15" x2="616.2" y2="230.15" stroke="#333" stroke-width="0.9"/>
<line x1="599.0" y1="221.95" x2="599.0" y2="242.25" stroke="#333" stroke-width="0.9"/>
<line x1="590.5" y1="230.15" x2="590.5" y2="242.25" stroke="#333" stroke-width="0.9"/>
<line x1="607.9" y1="230.15" x2="607.9" y2="242.25" stroke="#333" stroke-width="0.9"/>
<text x="591.0" y="229.15" font-size="7.6" font-weight="bold" fill="#111" text-anchor="middle">N</text>
<text x="608.4" y="229.15" font-size="7.6" font-weight="bold" fill="#111" text-anchor="middle">P</text>
<rect x="583.3" y="230.85" width="6.6" height="10.7" rx="1.2" fill="#23b316"/>
<text x="586.6" y="240.75" font-size="8.8" font-weight="bold" fill="#fff" text-anchor="middle">2</text>
<rect x="591.4" y="230.85" width="6.6" height="10.7" rx="1.2" fill="#23b316"/>
<text x="594.7" y="240.75" font-size="8.8" font-weight="bold" fill="#fff" text-anchor="middle">7</text>
<rect x="618.75" y="173.75" width="70.75" height="70.75" fill="#fff" stroke="#2a2a2a" stroke-width="1"/>
<rect x="626.35" y="202.65" width="22" height="22.3" rx="0.8" fill="#fff" stroke="#4a4a4a" stroke-width="1.1"/>
<rect x="630.85" y="206.55" width="12.2" height="6.6" rx="0.6" fill="#cde9fa" stroke="#333" stroke-width="0.9"/>
<rect x="629.35" y="214.85" width="15.8" height="1.8" fill="#1a1a1a"/>
<rect x="629.25" y="217.85" width="4.9" height="3.6" fill="#e2e2e2"/>
<circle cx="641.65" cy="219.85" r="2.6" fill="#fff" stroke="#222" stroke-width="0.8"/>
<path d="M641.65 216.65 V222.65 M639.05 219.85 H644.25" stroke="#222" stroke-width="0.7"/>
<rect x="654.45" y="192.85" width="28.7" height="7.7" fill="#00fafa" stroke="#222" stroke-width="0.8"/>
<circle cx="658.15" cy="196.55" r="2.1" fill="#fff" stroke="#222" stroke-width="0.8"/><line x1="656.68" y1="198.02" x2="659.62" y2="195.08" stroke="#222" stroke-width="0.7"/>
<circle cx="665.15" cy="196.55" r="2.1" fill="#fff" stroke="#222" stroke-width="0.8"/><line x1="663.68" y1="198.02" x2="666.62" y2="195.08" stroke="#222" stroke-width="0.7"/>
<circle cx="672.25" cy="196.55" r="2.1" fill="#fff" stroke="#222" stroke-width="0.8"/><line x1="670.78" y1="198.02" x2="673.72" y2="195.08" stroke="#222" stroke-width="0.7"/>
<circle cx="679.35" cy="196.55" r="2.1" fill="#fff" stroke="#222" stroke-width="0.8"/><line x1="677.88" y1="198.02" x2="680.82" y2="195.08" stroke="#222" stroke-width="0.7"/>
<rect x="654.45" y="200.55" width="28.7" height="8.8" fill="#fff" stroke="#555" stroke-width="0.8"/>
<line x1="668.75" y1="200.55" x2="668.75" y2="209.35" stroke="#444" stroke-width="0.8"/>
<path d="M656.35 203.35 H666.85 M659.65 203.35 V205.25 H663.85 V203.35 M661.75 205.25 V207.55" stroke="#1a1a1a" stroke-width="0.75" fill="none"/>
<circle cx="659.65" cy="203.35" r="0.6" fill="#000"/><circle cx="663.85" cy="203.35" r="0.6" fill="#000"/>
<text x="670.15" y="207.15" font-size="5.2" font-weight="bold" fill="#333" textLength="11" lengthAdjust="spacingAndGlyphs">BUS</text>
<text x="660.45" y="214.65" font-size="4.9" font-weight="normal" fill="#555" stroke="#555" stroke-width="0.15" textLength="10" lengthAdjust="spacingAndGlyphs">OFF</text>
<text x="671.05" y="214.65" font-size="4.9" font-weight="bold" fill="#555" textLength="7.4" lengthAdjust="spacingAndGlyphs">ON</text>
<rect x="660.85" y="215.65" width="18" height="4.4" fill="#fff" stroke="#111" stroke-width="0.9"/>
<rect x="661.05" y="215.85" width="6.2" height="4.1" fill="#161616"/>
<rect x="662.05" y="216.65" width="2.2" height="2.4" fill="#555"/>
<rect x="652.55" y="221.95" width="34.4" height="20.3" fill="#fff" stroke="#333" stroke-width="0.9"/>
<line x1="652.55" y1="230.15" x2="686.95" y2="230.15" stroke="#333" stroke-width="0.9"/>
<line x1="669.75" y1="221.95" x2="669.75" y2="242.25" stroke="#333" stroke-width="0.9"/>
<line x1="661.25" y1="230.15" x2="661.25" y2="242.25" stroke="#333" stroke-width="0.9"/>
<line x1="678.65" y1="230.15" x2="678.65" y2="242.25" stroke="#333" stroke-width="0.9"/>
<text x="661.75" y="229.15" font-size="7.6" font-weight="bold" fill="#111" text-anchor="middle">N</text>
<text x="679.15" y="229.15" font-size="7.6" font-weight="bold" fill="#111" text-anchor="middle">P</text>
<rect x="654.05" y="230.85" width="6.6" height="10.7" rx="1.2" fill="#23b316"/>
<text x="657.35" y="240.75" font-size="8.8" font-weight="bold" fill="#fff" text-anchor="middle">2</text>
<rect x="662.15" y="230.85" width="6.6" height="10.7" rx="1.2" fill="#23b316"/>
<text x="665.45" y="240.75" font-size="8.8" font-weight="bold" fill="#fff" text-anchor="middle">6</text>
<rect x="335.75" y="244.5" width="70.75" height="70.75" fill="#fff" stroke="#2a2a2a" stroke-width="1"/>
<rect x="343.35" y="273.4" width="22" height="22.3" rx="0.8" fill="#fff" stroke="#4a4a4a" stroke-width="1.1"/>
<rect x="347.85" y="277.3" width="12.2" height="6.6" rx="0.6" fill="#cde9fa" stroke="#333" stroke-width="0.9"/>
<rect x="346.35" y="285.6" width="15.8" height="1.8" fill="#1a1a1a"/>
<rect x="346.25" y="288.6" width="4.9" height="3.6" fill="#e2e2e2"/>
<circle cx="358.65" cy="290.6" r="2.6" fill="#fff" stroke="#222" stroke-width="0.8"/>
<path d="M358.65 287.4 V293.4 M356.05 290.6 H361.25" stroke="#222" stroke-width="0.7"/>
<rect x="371.45" y="263.6" width="28.7" height="7.7" fill="#00fafa" stroke="#222" stroke-width="0.8"/>
<circle cx="375.15" cy="267.3" r="2.1" fill="#fff" stroke="#222" stroke-width="0.8"/><line x1="373.67999999999995" y1="268.77000000000004" x2="376.62" y2="265.83" stroke="#222" stroke-width="0.7"/>
<circle cx="382.15" cy="267.3" r="2.1" fill="#fff" stroke="#222" stroke-width="0.8"/><line x1="380.67999999999995" y1="268.77000000000004" x2="383.62" y2="265.83" stroke="#222" stroke-width="0.7"/>
<circle cx="389.25" cy="267.3" r="2.1" fill="#fff" stroke="#222" stroke-width="0.8"/><line x1="387.78" y1="268.77000000000004" x2="390.72" y2="265.83" stroke="#222" stroke-width="0.7"/>
<circle cx="396.35" cy="267.3" r="2.1" fill="#fff" stroke="#222" stroke-width="0.8"/><line x1="394.88" y1="268.77000000000004" x2="397.82000000000005" y2="265.83" stroke="#222" stroke-width="0.7"/>
<rect x="371.45" y="271.3" width="28.7" height="8.8" fill="#fff" stroke="#555" stroke-width="0.8"/>
<line x1="385.75" y1="271.3" x2="385.75" y2="280.1" stroke="#444" stroke-width="0.8"/>
<path d="M373.35 274.1 H383.85 M376.65 274.1 V276.0 H380.85 V274.1 M378.75 276.0 V278.3" stroke="#1a1a1a" stroke-width="0.75" fill="none"/>
<circle cx="376.65" cy="274.1" r="0.6" fill="#000"/><circle cx="380.85" cy="274.1" r="0.6" fill="#000"/>
<text x="387.15" y="277.9" font-size="5.2" font-weight="bold" fill="#333" textLength="11" lengthAdjust="spacingAndGlyphs">BUS</text>
<text x="377.45" y="285.4" font-size="4.9" font-weight="normal" fill="#555" stroke="#555" stroke-width="0.15" textLength="10" lengthAdjust="spacingAndGlyphs">OFF</text>
<text x="388.05" y="285.4" font-size="4.9" font-weight="bold" fill="#e00000" textLength="7.4" lengthAdjust="spacingAndGlyphs">ON</text>
<rect x="377.85" y="286.4" width="18" height="4.4" fill="#fff" stroke="#111" stroke-width="0.9"/>
<rect x="390.95" y="286.6" width="4.9" height="4.1" fill="#d00"/>
<rect x="392.05" y="287.5" width="1.6" height="1.6" fill="#600"/>
<rect x="369.55" y="292.7" width="34.4" height="20.3" fill="#fff" stroke="#333" stroke-width="0.9"/>
<line x1="369.55" y1="300.9" x2="403.95" y2="300.9" stroke="#333" stroke-width="0.9"/>
<line x1="386.75" y1="292.7" x2="386.75" y2="313.0" stroke="#333" stroke-width="0.9"/>
<line x1="378.25" y1="300.9" x2="378.25" y2="313.0" stroke="#333" stroke-width="0.9"/>
<line x1="395.65" y1="300.9" x2="395.65" y2="313.0" stroke="#333" stroke-width="0.9"/>
<text x="378.75" y="299.9" font-size="7.6" font-weight="bold" fill="#111" text-anchor="middle">N</text>
<text x="396.15" y="299.9" font-size="7.6" font-weight="bold" fill="#111" text-anchor="middle">P</text>
<rect x="371.05" y="301.6" width="6.6" height="10.7" rx="1.2" fill="#23b316"/>
<text x="374.35" y="311.5" font-size="8.8" font-weight="bold" fill="#fff" text-anchor="middle">1</text>
<rect x="379.15" y="301.6" width="6.6" height="10.7" rx="1.2" fill="#23b316"/>
<text x="382.45" y="311.5" font-size="8.8" font-weight="bold" fill="#fff" text-anchor="middle">7</text>
<rect x="406.5" y="244.5" width="70.75" height="70.75" fill="#fff" stroke="#2a2a2a" stroke-width="1"/>
<rect x="414.1" y="273.4" width="22" height="22.3" rx="0.8" fill="#fff" stroke="#4a4a4a" stroke-width="1.1"/>
<rect x="418.6" y="277.3" width="12.2" height="6.6" rx="0.6" fill="#cde9fa" stroke="#333" stroke-width="0.9"/>
<rect x="417.1" y="285.6" width="15.8" height="1.8" fill="#1a1a1a"/>
<rect x="417.0" y="288.6" width="4.9" height="3.6" fill="#e2e2e2"/>
<circle cx="429.4" cy="290.6" r="2.6" fill="#fff" stroke="#222" stroke-width="0.8"/>
<path d="M429.4 287.4 V293.4 M426.8 290.6 H432.0" stroke="#222" stroke-width="0.7"/>
<rect x="442.2" y="263.6" width="28.7" height="7.7" fill="#00fafa" stroke="#222" stroke-width="0.8"/>
<circle cx="445.9" cy="267.3" r="2.1" fill="#fff" stroke="#222" stroke-width="0.8"/><line x1="444.42999999999995" y1="268.77000000000004" x2="447.37" y2="265.83" stroke="#222" stroke-width="0.7"/>
<circle cx="452.9" cy="267.3" r="2.1" fill="#fff" stroke="#222" stroke-width="0.8"/><line x1="451.42999999999995" y1="268.77000000000004" x2="454.37" y2="265.83" stroke="#222" stroke-width="0.7"/>
<circle cx="460.0" cy="267.3" r="2.1" fill="#fff" stroke="#222" stroke-width="0.8"/><line x1="458.53" y1="268.77000000000004" x2="461.47" y2="265.83" stroke="#222" stroke-width="0.7"/>
<circle cx="467.1" cy="267.3" r="2.1" fill="#fff" stroke="#222" stroke-width="0.8"/><line x1="465.63" y1="268.77000000000004" x2="468.57000000000005" y2="265.83" stroke="#222" stroke-width="0.7"/>
<rect x="442.2" y="271.3" width="28.7" height="8.8" fill="#fff" stroke="#555" stroke-width="0.8"/>
<line x1="456.5" y1="271.3" x2="456.5" y2="280.1" stroke="#444" stroke-width="0.8"/>
<path d="M444.1 274.1 H454.6 M447.4 274.1 V276.0 H451.6 V274.1 M449.5 276.0 V278.3" stroke="#1a1a1a" stroke-width="0.75" fill="none"/>
<circle cx="447.4" cy="274.1" r="0.6" fill="#000"/><circle cx="451.6" cy="274.1" r="0.6" fill="#000"/>
<text x="457.9" y="277.9" font-size="5.2" font-weight="bold" fill="#333" textLength="11" lengthAdjust="spacingAndGlyphs">BUS</text>
<text x="448.2" y="285.4" font-size="4.9" font-weight="normal" fill="#555" stroke="#555" stroke-width="0.15" textLength="10" lengthAdjust="spacingAndGlyphs">OFF</text>
<text x="458.8" y="285.4" font-size="4.9" font-weight="bold" fill="#555" textLength="7.4" lengthAdjust="spacingAndGlyphs">ON</text>
<rect x="448.6" y="286.4" width="18" height="4.4" fill="#fff" stroke="#111" stroke-width="0.9"/>
<rect x="448.8" y="286.6" width="6.2" height="4.1" fill="#161616"/>
<rect x="449.8" y="287.4" width="2.2" height="2.4" fill="#555"/>
<rect x="440.3" y="292.7" width="34.4" height="20.3" fill="#fff" stroke="#333" stroke-width="0.9"/>
<line x1="440.3" y1="300.9" x2="474.7" y2="300.9" stroke="#333" stroke-width="0.9"/>
<line x1="457.5" y1="292.7" x2="457.5" y2="313.0" stroke="#333" stroke-width="0.9"/>
<line x1="449.0" y1="300.9" x2="449.0" y2="313.0" stroke="#333" stroke-width="0.9"/>
<line x1="466.4" y1="300.9" x2="466.4" y2="313.0" stroke="#333" stroke-width="0.9"/>
<text x="449.5" y="299.9" font-size="7.6" font-weight="bold" fill="#111" text-anchor="middle">N</text>
<text x="466.9" y="299.9" font-size="7.6" font-weight="bold" fill="#111" text-anchor="middle">P</text>
<rect x="441.8" y="301.6" width="6.6" height="10.7" rx="1.2" fill="#23b316"/>
<text x="445.1" y="311.5" font-size="8.8" font-weight="bold" fill="#fff" text-anchor="middle">1</text>
<rect x="449.9" y="301.6" width="6.6" height="10.7" rx="1.2" fill="#23b316"/>
<text x="453.2" y="311.5" font-size="8.8" font-weight="bold" fill="#fff" text-anchor="middle">6</text>
<rect x="477.25" y="244.5" width="70.75" height="70.75" fill="#fff" stroke="#2a2a2a" stroke-width="1"/>
<rect x="484.85" y="273.4" width="22" height="22.3" rx="0.8" fill="#fff" stroke="#4a4a4a" stroke-width="1.1"/>
<rect x="489.35" y="277.3" width="12.2" height="6.6" rx="0.6" fill="#cde9fa" stroke="#333" stroke-width="0.9"/>
<rect x="487.85" y="285.6" width="15.8" height="1.8" fill="#1a1a1a"/>
<rect x="487.75" y="288.6" width="4.9" height="3.6" fill="#e2e2e2"/>
<circle cx="500.15" cy="290.6" r="2.6" fill="#fff" stroke="#222" stroke-width="0.8"/>
<path d="M500.15 287.4 V293.4 M497.55 290.6 H502.75" stroke="#222" stroke-width="0.7"/>
<rect x="512.95" y="263.6" width="28.7" height="7.7" fill="#00fafa" stroke="#222" stroke-width="0.8"/>
<circle cx="516.65" cy="267.3" r="2.1" fill="#fff" stroke="#222" stroke-width="0.8"/><line x1="515.18" y1="268.77000000000004" x2="518.12" y2="265.83" stroke="#222" stroke-width="0.7"/>
<circle cx="523.65" cy="267.3" r="2.1" fill="#fff" stroke="#222" stroke-width="0.8"/><line x1="522.18" y1="268.77000000000004" x2="525.12" y2="265.83" stroke="#222" stroke-width="0.7"/>
<circle cx="530.75" cy="267.3" r="2.1" fill="#fff" stroke="#222" stroke-width="0.8"/><line x1="529.28" y1="268.77000000000004" x2="532.22" y2="265.83" stroke="#222" stroke-width="0.7"/>
<circle cx="537.85" cy="267.3" r="2.1" fill="#fff" stroke="#222" stroke-width="0.8"/><line x1="536.38" y1="268.77000000000004" x2="539.32" y2="265.83" stroke="#222" stroke-width="0.7"/>
<rect x="512.95" y="271.3" width="28.7" height="8.8" fill="#fff" stroke="#555" stroke-width="0.8"/>
<line x1="527.25" y1="271.3" x2="527.25" y2="280.1" stroke="#444" stroke-width="0.8"/>
<path d="M514.85 274.1 H525.35 M518.15 274.1 V276.0 H522.35 V274.1 M520.25 276.0 V278.3" stroke="#1a1a1a" stroke-width="0.75" fill="none"/>
<circle cx="518.15" cy="274.1" r="0.6" fill="#000"/><circle cx="522.35" cy="274.1" r="0.6" fill="#000"/>
<text x="528.65" y="277.9" font-size="5.2" font-weight="bold" fill="#333" textLength="11" lengthAdjust="spacingAndGlyphs">BUS</text>
<text x="518.95" y="285.4" font-size="4.9" font-weight="normal" fill="#555" stroke="#555" stroke-width="0.15" textLength="10" lengthAdjust="spacingAndGlyphs">OFF</text>
<text x="529.55" y="285.4" font-size="4.9" font-weight="bold" fill="#555" textLength="7.4" lengthAdjust="spacingAndGlyphs">ON</text>
<rect x="519.35" y="286.4" width="18" height="4.4" fill="#fff" stroke="#111" stroke-width="0.9"/>
<rect x="519.55" y="286.6" width="6.2" height="4.1" fill="#161616"/>
<rect x="520.55" y="287.4" width="2.2" height="2.4" fill="#555"/>
<rect x="511.05" y="292.7" width="34.4" height="20.3" fill="#fff" stroke="#333" stroke-width="0.9"/>
<line x1="511.05" y1="300.9" x2="545.45" y2="300.9" stroke="#333" stroke-width="0.9"/>
<line x1="528.25" y1="292.7" x2="528.25" y2="313.0" stroke="#333" stroke-width="0.9"/>
<line x1="519.75" y1="300.9" x2="519.75" y2="313.0" stroke="#333" stroke-width="0.9"/>
<line x1="537.15" y1="300.9" x2="537.15" y2="313.0" stroke="#333" stroke-width="0.9"/>
<text x="520.25" y="299.9" font-size="7.6" font-weight="bold" fill="#111" text-anchor="middle">N</text>
<text x="537.65" y="299.9" font-size="7.6" font-weight="bold" fill="#111" text-anchor="middle">P</text>
<rect x="512.55" y="301.6" width="6.6" height="10.7" rx="1.2" fill="#23b316"/>
<text x="515.85" y="311.5" font-size="8.8" font-weight="bold" fill="#fff" text-anchor="middle">1</text>
<rect x="520.65" y="301.6" width="6.6" height="10.7" rx="1.2" fill="#23b316"/>
<text x="523.95" y="311.5" font-size="8.8" font-weight="bold" fill="#fff" text-anchor="middle">5</text>
<rect x="548.0" y="244.5" width="70.75" height="70.75" fill="#fff" stroke="#2a2a2a" stroke-width="1"/>
<rect x="555.6" y="273.4" width="22" height="22.3" rx="0.8" fill="#fff" stroke="#4a4a4a" stroke-width="1.1"/>
<rect x="560.1" y="277.3" width="12.2" height="6.6" rx="0.6" fill="#cde9fa" stroke="#333" stroke-width="0.9"/>
<rect x="558.6" y="285.6" width="15.8" height="1.8" fill="#1a1a1a"/>
<rect x="558.5" y="288.6" width="4.9" height="3.6" fill="#e2e2e2"/>
<circle cx="570.9" cy="290.6" r="2.6" fill="#fff" stroke="#222" stroke-width="0.8"/>
<path d="M570.9 287.4 V293.4 M568.3 290.6 H573.5" stroke="#222" stroke-width="0.7"/>
<rect x="583.7" y="263.6" width="28.7" height="7.7" fill="#00fafa" stroke="#222" stroke-width="0.8"/>
<circle cx="587.4" cy="267.3" r="2.1" fill="#fff" stroke="#222" stroke-width="0.8"/><line x1="585.93" y1="268.77000000000004" x2="588.87" y2="265.83" stroke="#222" stroke-width="0.7"/>
<circle cx="594.4" cy="267.3" r="2.1" fill="#fff" stroke="#222" stroke-width="0.8"/><line x1="592.93" y1="268.77000000000004" x2="595.87" y2="265.83" stroke="#222" stroke-width="0.7"/>
<circle cx="601.5" cy="267.3" r="2.1" fill="#fff" stroke="#222" stroke-width="0.8"/><line x1="600.03" y1="268.77000000000004" x2="602.97" y2="265.83" stroke="#222" stroke-width="0.7"/>
<circle cx="608.6" cy="267.3" r="2.1" fill="#fff" stroke="#222" stroke-width="0.8"/><line x1="607.13" y1="268.77000000000004" x2="610.07" y2="265.83" stroke="#222" stroke-width="0.7"/>
<rect x="583.7" y="271.3" width="28.7" height="8.8" fill="#fff" stroke="#555" stroke-width="0.8"/>
<line x1="598.0" y1="271.3" x2="598.0" y2="280.1" stroke="#444" stroke-width="0.8"/>
<path d="M585.6 274.1 H596.1 M588.9 274.1 V276.0 H593.1 V274.1 M591.0 276.0 V278.3" stroke="#1a1a1a" stroke-width="0.75" fill="none"/>
<circle cx="588.9" cy="274.1" r="0.6" fill="#000"/><circle cx="593.1" cy="274.1" r="0.6" fill="#000"/>
<text x="599.4" y="277.9" font-size="5.2" font-weight="bold" fill="#333" textLength="11" lengthAdjust="spacingAndGlyphs">BUS</text>
<text x="589.7" y="285.4" font-size="4.9" font-weight="normal" fill="#555" stroke="#555" stroke-width="0.15" textLength="10" lengthAdjust="spacingAndGlyphs">OFF</text>
<text x="600.3" y="285.4" font-size="4.9" font-weight="bold" fill="#555" textLength="7.4" lengthAdjust="spacingAndGlyphs">ON</text>
<rect x="590.1" y="286.4" width="18" height="4.4" fill="#fff" stroke="#111" stroke-width="0.9"/>
<rect x="590.3" y="286.6" width="6.2" height="4.1" fill="#161616"/>
<rect x="591.3" y="287.4" width="2.2" height="2.4" fill="#555"/>
<rect x="581.8" y="292.7" width="34.4" height="20.3" fill="#fff" stroke="#333" stroke-width="0.9"/>
<line x1="581.8" y1="300.9" x2="616.2" y2="300.9" stroke="#333" stroke-width="0.9"/>
<line x1="599.0" y1="292.7" x2="599.0" y2="313.0" stroke="#333" stroke-width="0.9"/>
<line x1="590.5" y1="300.9" x2="590.5" y2="313.0" stroke="#333" stroke-width="0.9"/>
<line x1="607.9" y1="300.9" x2="607.9" y2="313.0" stroke="#333" stroke-width="0.9"/>
<text x="591.0" y="299.9" font-size="7.6" font-weight="bold" fill="#111" text-anchor="middle">N</text>
<text x="608.4" y="299.9" font-size="7.6" font-weight="bold" fill="#111" text-anchor="middle">P</text>
<rect x="583.3" y="301.6" width="6.6" height="10.7" rx="1.2" fill="#23b316"/>
<text x="586.6" y="311.5" font-size="8.8" font-weight="bold" fill="#fff" text-anchor="middle">1</text>
<rect x="591.4" y="301.6" width="6.6" height="10.7" rx="1.2" fill="#23b316"/>
<text x="594.7" y="311.5" font-size="8.8" font-weight="bold" fill="#fff" text-anchor="middle">4</text>
<rect x="618.75" y="244.5" width="70.75" height="70.75" fill="#fff" stroke="#2a2a2a" stroke-width="1"/>
<rect x="626.35" y="273.4" width="22" height="22.3" rx="0.8" fill="#fff" stroke="#4a4a4a" stroke-width="1.1"/>
<rect x="630.85" y="277.3" width="12.2" height="6.6" rx="0.6" fill="#cde9fa" stroke="#333" stroke-width="0.9"/>
<rect x="629.35" y="285.6" width="15.8" height="1.8" fill="#1a1a1a"/>
<rect x="629.25" y="288.6" width="4.9" height="3.6" fill="#e2e2e2"/>
<circle cx="641.65" cy="290.6" r="2.6" fill="#fff" stroke="#222" stroke-width="0.8"/>
<path d="M641.65 287.4 V293.4 M639.05 290.6 H644.25" stroke="#222" stroke-width="0.7"/>
<rect x="654.45" y="263.6" width="28.7" height="7.7" fill="#00fafa" stroke="#222" stroke-width="0.8"/>
<circle cx="658.15" cy="267.3" r="2.1" fill="#fff" stroke="#222" stroke-width="0.8"/><line x1="656.68" y1="268.77000000000004" x2="659.62" y2="265.83" stroke="#222" stroke-width="0.7"/>
<circle cx="665.15" cy="267.3" r="2.1" fill="#fff" stroke="#222" stroke-width="0.8"/><line x1="663.68" y1="268.77000000000004" x2="666.62" y2="265.83" stroke="#222" stroke-width="0.7"/>
<circle cx="672.25" cy="267.3" r="2.1" fill="#fff" stroke="#222" stroke-width="0.8"/><line x1="670.78" y1="268.77000000000004" x2="673.72" y2="265.83" stroke="#222" stroke-width="0.7"/>
<circle cx="679.35" cy="267.3" r="2.1" fill="#fff" stroke="#222" stroke-width="0.8"/><line x1="677.88" y1="268.77000000000004" x2="680.82" y2="265.83" stroke="#222" stroke-width="0.7"/>
<rect x="654.45" y="271.3" width="28.7" height="8.8" fill="#fff" stroke="#555" stroke-width="0.8"/>
<line x1="668.75" y1="271.3" x2="668.75" y2="280.1" stroke="#444" stroke-width="0.8"/>
<path d="M656.35 274.1 H666.85 M659.65 274.1 V276.0 H663.85 V274.1 M661.75 276.0 V278.3" stroke="#1a1a1a" stroke-width="0.75" fill="none"/>
<circle cx="659.65" cy="274.1" r="0.6" fill="#000"/><circle cx="663.85" cy="274.1" r="0.6" fill="#000"/>
<text x="670.15" y="277.9" font-size="5.2" font-weight="bold" fill="#333" textLength="11" lengthAdjust="spacingAndGlyphs">BUS</text>
<text x="660.45" y="285.4" font-size="4.9" font-weight="normal" fill="#555" stroke="#555" stroke-width="0.15" textLength="10" lengthAdjust="spacingAndGlyphs">OFF</text>
<text x="671.05" y="285.4" font-size="4.9" font-weight="bold" fill="#555" textLength="7.4" lengthAdjust="spacingAndGlyphs">ON</text>
<rect x="660.85" y="286.4" width="18" height="4.4" fill="#fff" stroke="#111" stroke-width="0.9"/>
<rect x="661.05" y="286.6" width="6.2" height="4.1" fill="#161616"/>
<rect x="662.05" y="287.4" width="2.2" height="2.4" fill="#555"/>
<rect x="652.55" y="292.7" width="34.4" height="20.3" fill="#fff" stroke="#333" stroke-width="0.9"/>
<line x1="652.55" y1="300.9" x2="686.95" y2="300.9" stroke="#333" stroke-width="0.9"/>
<line x1="669.75" y1="292.7" x2="669.75" y2="313.0" stroke="#333" stroke-width="0.9"/>
<line x1="661.25" y1="300.9" x2="661.25" y2="313.0" stroke="#333" stroke-width="0.9"/>
<line x1="678.65" y1="300.9" x2="678.65" y2="313.0" stroke="#333" stroke-width="0.9"/>
<text x="661.75" y="299.9" font-size="7.6" font-weight="bold" fill="#111" text-anchor="middle">N</text>
<text x="679.15" y="299.9" font-size="7.6" font-weight="bold" fill="#111" text-anchor="middle">P</text>
<rect x="654.05" y="301.6" width="6.6" height="10.7" rx="1.2" fill="#23b316"/>
<text x="657.35" y="311.5" font-size="8.8" font-weight="bold" fill="#fff" text-anchor="middle">1</text>
<rect x="662.15" y="301.6" width="6.6" height="10.7" rx="1.2" fill="#23b316"/>
<text x="665.45" y="311.5" font-size="8.8" font-weight="bold" fill="#fff" text-anchor="middle">3</text>
<path d="M460.00 122.2 V118.00 C460.00 115.00 462.00 113.50 465.00 113.50 H525.75 C528.75 113.50 530.75 115.00 530.75 118.00 V122.2 M530.75 122.2 V118.00 C530.75 115.00 532.75 113.50 535.75 113.50 H596.50 C599.50 113.50 601.50 115.00 601.50 118.00 V122.2 M601.50 122.2 V118.00 C601.50 115.00 603.50 113.50 606.50 113.50 H667.25 C670.25 113.50 672.25 115.00 672.25 118.00 V122.2 M672.25 122.2 V118.00 C672.25 115.00 674.25 113.50 677.25 113.50 H714.70 Q720.70 113.50 720.70 119.50 V364.5" fill="none" stroke="#a8733d" stroke-width="1"/>
<path d="M467.10 122.2 V115.10 C467.10 112.10 469.10 110.60 472.10 110.60 H532.85 C535.85 110.60 537.85 112.10 537.85 115.10 V122.2 M537.85 122.2 V115.10 C537.85 112.10 539.85 110.60 542.85 110.60 H603.60 C606.60 110.60 608.60 112.10 608.60 115.10 V122.2 M608.60 122.2 V115.10 C608.60 112.10 610.60 110.60 613.60 110.60 H674.35 C677.35 110.60 679.35 112.10 679.35 115.10 V122.2 M679.35 122.2 V115.10 C679.35 112.10 681.35 110.60 684.35 110.60 H717.20 Q723.20 110.60 723.20 116.60 V364.5" fill="none" stroke="#5863b5" stroke-width="1"/>
<path d="M318.50 192.95 V188.75 C318.50 185.75 320.50 184.25 323.50 184.25 H384.25 C387.25 184.25 389.25 185.75 389.25 188.75 V192.95 M389.25 192.95 V188.75 C389.25 185.75 391.25 184.25 394.25 184.25 H455.00 C458.00 184.25 460.00 185.75 460.00 188.75 V192.95 M460.00 192.95 V188.75 C460.00 185.75 462.00 184.25 465.00 184.25 H525.75 C528.75 184.25 530.75 185.75 530.75 188.75 V192.95 M530.75 192.95 V188.75 C530.75 185.75 532.75 184.25 535.75 184.25 H596.50 C599.50 184.25 601.50 185.75 601.50 188.75 V192.95 M601.50 192.95 V188.75 C601.50 185.75 603.50 184.25 606.50 184.25 H667.25 C670.25 184.25 672.25 185.75 672.25 188.75 V192.95 M672.25 192.95 V188.75 C672.25 185.75 674.25 184.25 677.25 184.25 H703.60 Q709.60 184.25 709.60 190.25 V364.5" fill="none" stroke="#a8733d" stroke-width="1"/>
<path d="M325.60 192.95 V185.85 C325.60 182.85 327.60 181.35 330.60 181.35 H391.35 C394.35 181.35 396.35 182.85 396.35 185.85 V192.95 M396.35 192.95 V185.85 C396.35 182.85 398.35 181.35 401.35 181.35 H462.10 C465.10 181.35 467.10 182.85 467.10 185.85 V192.95 M467.10 192.95 V185.85 C467.10 182.85 469.10 181.35 472.10 181.35 H532.85 C535.85 181.35 537.85 182.85 537.85 185.85 V192.95 M537.85 192.95 V185.85 C537.85 182.85 539.85 181.35 542.85 181.35 H603.60 C606.60 181.35 608.60 182.85 608.60 185.85 V192.95 M608.60 192.95 V185.85 C608.60 182.85 610.60 181.35 613.60 181.35 H674.35 C677.35 181.35 679.35 182.85 679.35 185.85 V192.95 M679.35 192.95 V185.85 C679.35 182.85 681.35 181.35 684.35 181.35 H706.20 Q712.20 181.35 712.20 187.35 V364.5" fill="none" stroke="#5863b5" stroke-width="1"/>
<path d="M389.25 263.7 V259.50 C389.25 256.50 391.25 255.00 394.25 255.00 H455.00 C458.00 255.00 460.00 256.50 460.00 259.50 V263.7 M460.00 263.7 V259.50 C460.00 256.50 462.00 255.00 465.00 255.00 H525.75 C528.75 255.00 530.75 256.50 530.75 259.50 V263.7 M530.75 263.7 V259.50 C530.75 256.50 532.75 255.00 535.75 255.00 H596.50 C599.50 255.00 601.50 256.50 601.50 259.50 V263.7 M601.50 263.7 V259.50 C601.50 256.50 603.50 255.00 606.50 255.00 H667.25 C670.25 255.00 672.25 256.50 672.25 259.50 V263.7 M672.25 263.7 V259.50 C672.25 256.50 674.25 255.00 677.25 255.00 H692.30 Q698.30 255.00 698.30 261.00 V364.5" fill="none" stroke="#a8733d" stroke-width="1"/>
<path d="M396.35 263.7 V256.60 C396.35 253.60 398.35 252.10 401.35 252.10 H462.10 C465.10 252.10 467.10 253.60 467.10 256.60 V263.7 M467.10 263.7 V256.60 C467.10 253.60 469.10 252.10 472.10 252.10 H532.85 C535.85 252.10 537.85 253.60 537.85 256.60 V263.7 M537.85 263.7 V256.60 C537.85 253.60 539.85 252.10 542.85 252.10 H603.60 C606.60 252.10 608.60 253.60 608.60 256.60 V263.7 M608.60 263.7 V256.60 C608.60 253.60 610.60 252.10 613.60 252.10 H674.35 C677.35 252.10 679.35 253.60 679.35 256.60 V263.7 M679.35 263.7 V256.60 C679.35 253.60 681.35 252.10 684.35 252.10 H694.40 Q700.40 252.10 700.40 258.10 V364.5" fill="none" stroke="#5863b5" stroke-width="1"/>
<text x="24.7" y="332.3" font-size="8.6" fill="#6f6f6f" font-weight="bold" textLength="82.2" lengthAdjust="spacingAndGlyphs" >DEURSTATION S140V</text>
<rect x="20.4" y="335.4" width="96.9" height="75.20000000000005" fill="#d0d0d0" stroke="#5a5a5a" stroke-width="0.9"/>
<rect x="20.4" y="335.4" width="8" height="75.20000000000005" fill="#d6d6d6" stroke="#555" stroke-width="0.8"/>
<rect x="22.1" y="340.2" width="1.8" height="8" fill="#8a8a8a"/><rect x="23.9" y="340.2" width="2.2" height="8" fill="#fff"/>
<rect x="22.1" y="359.09999999999997" width="1.8" height="8" fill="#8a8a8a"/><rect x="23.9" y="359.09999999999997" width="2.2" height="8" fill="#fff"/>
<rect x="22.1" y="378.0" width="1.8" height="8" fill="#8a8a8a"/><rect x="23.9" y="378.0" width="2.2" height="8" fill="#fff"/>
<rect x="22.1" y="396.9" width="1.8" height="8" fill="#8a8a8a"/><rect x="23.9" y="396.9" width="2.2" height="8" fill="#fff"/>
<rect x="37.5" y="339.5" width="75.7" height="68.20000000000005" fill="#cecece" stroke="#333" stroke-width="0.9"/>
<rect x="116.2" y="347.2" width="3.6" height="21.0" rx="1" fill="#5a5a5a" stroke="#2a2a2a" stroke-width="0.6"/>
<rect x="119.5" y="352.7" width="2.8" height="10.0" fill="#666" stroke="#2a2a2a" stroke-width="0.6"/>
<rect x="116.2" y="379.5" width="3.6" height="21.599999999999966" rx="1" fill="#5a5a5a" stroke="#2a2a2a" stroke-width="0.6"/>
<rect x="119.5" y="385.0" width="2.8" height="10.599999999999966" fill="#666" stroke="#2a2a2a" stroke-width="0.6"/>
<path d="M38.3 362.4 Q35.8 371.4 38.3 380.4" fill="none" stroke="#111" stroke-width="1.3"/>
<path d="M112.4 362.4 Q114.9 371.4 112.4 380.4" fill="none" stroke="#111" stroke-width="1.3"/>
<rect x="39.6" y="339.59999999999997" width="16.2" height="11.2" fill="#e4e4e4" stroke="#1e1e1e" stroke-width="1.1"/>
<text x="78.2" y="348.79999999999995" font-size="5.2" font-weight="bold" fill="#fafafa" textLength="18.8" lengthAdjust="spacingAndGlyphs"><tspan fill="#ff7a20">b</tspan>ticino</text>
<text x="78.5" y="353.2" font-size="3.4" font-weight="bold" fill="#333" textLength="18.5" lengthAdjust="spacingAndGlyphs">ART351300</text>
<rect x="98.5" y="343.4" width="13.8" height="49.6" fill="#d6d6d6" stroke="#222" stroke-width="0.9"/>
<rect x="38.5" y="353.5" width="18.2" height="29.2" fill="#c9c9c9" stroke="#3a3a3a" stroke-width="0.8"/>
<rect x="44.3" y="355.2" width="6.8" height="26.2" fill="#5a5a5a" stroke="#333" stroke-width="0.6"/>
<rect x="45.3" y="356.4" width="1.5" height="1.5" fill="#d8f0b0"/>
<rect x="48.3" y="356.4" width="1.5" height="1.5" fill="#d8f0b0"/>
<rect x="45.3" y="359.25" width="1.5" height="1.5" fill="#d8f0b0"/>
<rect x="48.3" y="359.25" width="1.5" height="1.5" fill="#d8f0b0"/>
<rect x="45.3" y="362.09999999999997" width="1.5" height="1.5" fill="#d8f0b0"/>
<rect x="48.3" y="362.09999999999997" width="1.5" height="1.5" fill="#d8f0b0"/>
<rect x="45.3" y="364.95" width="1.5" height="1.5" fill="#d8f0b0"/>
<rect x="48.3" y="364.95" width="1.5" height="1.5" fill="#d8f0b0"/>
<rect x="45.3" y="367.79999999999995" width="1.5" height="1.5" fill="#d8f0b0"/>
<rect x="48.3" y="367.79999999999995" width="1.5" height="1.5" fill="#d8f0b0"/>
<rect x="45.3" y="370.65" width="1.5" height="1.5" fill="#d8f0b0"/>
<rect x="48.3" y="370.65" width="1.5" height="1.5" fill="#d8f0b0"/>
<rect x="45.3" y="373.5" width="1.5" height="1.5" fill="#d8f0b0"/>
<rect x="48.3" y="373.5" width="1.5" height="1.5" fill="#d8f0b0"/>
<rect x="45.3" y="376.34999999999997" width="1.5" height="1.5" fill="#d8f0b0"/>
<rect x="48.3" y="376.34999999999997" width="1.5" height="1.5" fill="#d8f0b0"/>
<rect x="45.3" y="379.2" width="1.5" height="1.5" fill="#d8f0b0"/>
<rect x="48.3" y="379.2" width="1.5" height="1.5" fill="#d8f0b0"/>
<rect x="57.4" y="355.59999999999997" width="10.4" height="3.9" rx="1.9" fill="#e6e6e6" stroke="#222" stroke-width="0.9"/>
<rect x="60" y="357.0" width="3" height="1.1" fill="#333"/>
<rect x="57.4" y="359.79999999999995" width="10.4" height="3.9" rx="1.9" fill="#e6e6e6" stroke="#222" stroke-width="0.9"/>
<rect x="60" y="361.2" width="3" height="1.1" fill="#333"/>
<rect x="57.4" y="363.99999999999994" width="10.4" height="3.9" rx="1.9" fill="#e6e6e6" stroke="#222" stroke-width="0.9"/>
<rect x="60" y="365.4" width="3" height="1.1" fill="#333"/>
<rect x="57.4" y="368.2" width="10.4" height="3.9" rx="1.9" fill="#e6e6e6" stroke="#222" stroke-width="0.9"/>
<rect x="60" y="369.6" width="3" height="1.1" fill="#333"/>
<rect x="57.4" y="372.4" width="10.4" height="3.9" rx="1.9" fill="#e6e6e6" stroke="#222" stroke-width="0.9"/>
<rect x="60" y="373.8" width="3" height="1.1" fill="#333"/>
<rect x="57.4" y="376.59999999999997" width="10.4" height="3.9" rx="1.9" fill="#e6e6e6" stroke="#222" stroke-width="0.9"/>
<rect x="60" y="378.0" width="3" height="1.1" fill="#333"/>
<rect x="39.6" y="383.79999999999995" width="16.2" height="11.3" fill="#e6e6e6" stroke="#1e1e1e" stroke-width="1.1"/>
<rect x="39.6" y="395.09999999999997" width="16.2" height="11.8" fill="#e6e6e6" stroke="#1e1e1e" stroke-width="1.1"/>
<text x="57.4" y="391.79999999999995" font-size="4.8" font-weight="bold" fill="#222">IN</text>
<text x="56.5" y="403.79999999999995" font-size="4.8" font-weight="bold" fill="#222">OUT</text>
<rect x="69.2" y="388.79999999999995" width="38.3" height="3.4" fill="#555"/>
<text x="71.2" y="391.4" font-size="2.6" fill="#ddd" textLength="34.3" lengthAdjust="spacingAndGlyphs">BUS1 BUS2 PL PL 12V S- S+</text>
<rect x="69.2" y="392.4" width="39.3" height="14.8" fill="#111" stroke="#222" stroke-width="0.6"/>
<rect x="71.8" y="396.29999999999995" width="3.7" height="4.6" fill="#8ee02a"/><rect x="72.8" y="397.4" width="1.7" height="2.4" fill="#222"/>
<line x1="72.0" y1="405.0" x2="75.2" y2="402.59999999999997" stroke="#9ad85a" stroke-width="1"/>
<rect x="76.3" y="396.29999999999995" width="3.7" height="4.6" fill="#8ee02a"/><rect x="77.3" y="397.4" width="1.7" height="2.4" fill="#222"/>
<line x1="76.5" y1="405.0" x2="79.7" y2="402.59999999999997" stroke="#9ad85a" stroke-width="1"/>
<rect x="80.8" y="396.29999999999995" width="3.7" height="4.6" fill="#8ee02a"/><rect x="81.8" y="397.4" width="1.7" height="2.4" fill="#222"/>
<line x1="81.0" y1="405.0" x2="84.2" y2="402.59999999999997" stroke="#9ad85a" stroke-width="1"/>
<rect x="85.3" y="396.29999999999995" width="3.7" height="4.6" fill="#8ee02a"/><rect x="86.3" y="397.4" width="1.7" height="2.4" fill="#222"/>
<line x1="85.5" y1="405.0" x2="88.7" y2="402.59999999999997" stroke="#9ad85a" stroke-width="1"/>
<rect x="89.8" y="396.29999999999995" width="3.7" height="4.6" fill="#8ee02a"/><rect x="90.8" y="397.4" width="1.7" height="2.4" fill="#222"/>
<line x1="90.0" y1="405.0" x2="93.2" y2="402.59999999999997" stroke="#9ad85a" stroke-width="1"/>
<rect x="94.3" y="396.29999999999995" width="3.7" height="4.6" fill="#8ee02a"/><rect x="95.3" y="397.4" width="1.7" height="2.4" fill="#222"/>
<line x1="94.5" y1="405.0" x2="97.7" y2="402.59999999999997" stroke="#9ad85a" stroke-width="1"/>
<rect x="98.8" y="396.29999999999995" width="3.7" height="4.6" fill="#8ee02a"/><rect x="99.8" y="397.4" width="1.7" height="2.4" fill="#222"/>
<line x1="99.0" y1="405.0" x2="102.2" y2="402.59999999999997" stroke="#9ad85a" stroke-width="1"/>
<rect x="103.3" y="396.29999999999995" width="3.7" height="4.6" fill="#8ee02a"/><rect x="104.3" y="397.4" width="1.7" height="2.4" fill="#222"/>
<line x1="103.5" y1="405.0" x2="106.7" y2="402.59999999999997" stroke="#9ad85a" stroke-width="1"/>
<rect x="20.4" y="413.0" width="96.9" height="75.30000000000001" fill="#d0d0d0" stroke="#5a5a5a" stroke-width="0.9"/>
<rect x="20.4" y="413.0" width="8" height="75.30000000000001" fill="#d6d6d6" stroke="#555" stroke-width="0.8"/>
<rect x="22.1" y="417.8" width="1.8" height="8" fill="#8a8a8a"/><rect x="23.9" y="417.8" width="2.2" height="8" fill="#fff"/>
<rect x="22.1" y="436.7" width="1.8" height="8" fill="#8a8a8a"/><rect x="23.9" y="436.7" width="2.2" height="8" fill="#fff"/>
<rect x="22.1" y="455.6" width="1.8" height="8" fill="#8a8a8a"/><rect x="23.9" y="455.6" width="2.2" height="8" fill="#fff"/>
<rect x="22.1" y="474.5" width="1.8" height="8" fill="#8a8a8a"/><rect x="23.9" y="474.5" width="2.2" height="8" fill="#fff"/>
<rect x="37.5" y="417.1" width="75.7" height="68.30000000000001" fill="#cecece" stroke="#333" stroke-width="0.9"/>
<rect x="116.2" y="424.8" width="3.6" height="21.0" rx="1" fill="#5a5a5a" stroke="#2a2a2a" stroke-width="0.6"/>
<rect x="119.5" y="430.3" width="2.8" height="10.0" fill="#666" stroke="#2a2a2a" stroke-width="0.6"/>
<rect x="116.2" y="457.1" width="3.6" height="21.599999999999966" rx="1" fill="#5a5a5a" stroke="#2a2a2a" stroke-width="0.6"/>
<rect x="119.5" y="462.6" width="2.8" height="10.599999999999966" fill="#666" stroke="#2a2a2a" stroke-width="0.6"/>
<path d="M38.3 440.0 Q35.8 449.0 38.3 458.0" fill="none" stroke="#111" stroke-width="1.3"/>
<path d="M112.4 440.0 Q114.9 449.0 112.4 458.0" fill="none" stroke="#111" stroke-width="1.3"/>
<rect x="39.6" y="417.2" width="16.2" height="11.2" fill="#e4e4e4" stroke="#1e1e1e" stroke-width="1.1"/>
<text x="78.2" y="426.4" font-size="5.2" font-weight="bold" fill="#fafafa" textLength="18.8" lengthAdjust="spacingAndGlyphs"><tspan fill="#ff7a20">b</tspan>ticino</text>
<text x="78.5" y="430.8" font-size="3.4" font-weight="bold" fill="#333" textLength="18.5" lengthAdjust="spacingAndGlyphs">ART351300</text>
<rect x="98.5" y="421.0" width="13.8" height="48" fill="#d6d6d6" stroke="#222" stroke-width="0.9"/>
<rect x="39.6" y="461.4" width="16.2" height="11.3" fill="#e6e6e6" stroke="#1e1e1e" stroke-width="1.1"/>
<rect x="39.6" y="472.7" width="16.2" height="11.8" fill="#e6e6e6" stroke="#1e1e1e" stroke-width="1.1"/>
<text x="57.4" y="469.4" font-size="4.8" font-weight="bold" fill="#222">IN</text>
<text x="56.5" y="481.4" font-size="4.8" font-weight="bold" fill="#222">OUT</text>
<rect x="20.4" y="491.4" width="96.9" height="76.20000000000005" fill="#d0d0d0" stroke="#5a5a5a" stroke-width="0.9"/>
<rect x="20.4" y="491.4" width="8" height="76.20000000000005" fill="#d6d6d6" stroke="#555" stroke-width="0.8"/>
<rect x="22.1" y="496.2" width="1.8" height="8" fill="#8a8a8a"/><rect x="23.9" y="496.2" width="2.2" height="8" fill="#fff"/>
<rect x="22.1" y="515.1" width="1.8" height="8" fill="#8a8a8a"/><rect x="23.9" y="515.1" width="2.2" height="8" fill="#fff"/>
<rect x="22.1" y="534.0" width="1.8" height="8" fill="#8a8a8a"/><rect x="23.9" y="534.0" width="2.2" height="8" fill="#fff"/>
<rect x="22.1" y="552.9" width="1.8" height="8" fill="#8a8a8a"/><rect x="23.9" y="552.9" width="2.2" height="8" fill="#fff"/>
<rect x="37.5" y="495.5" width="75.7" height="69.20000000000005" fill="#cecece" stroke="#333" stroke-width="0.9"/>
<rect x="116.2" y="503.2" width="3.6" height="20.999999999999943" rx="1" fill="#5a5a5a" stroke="#2a2a2a" stroke-width="0.6"/>
<rect x="119.5" y="508.7" width="2.8" height="9.999999999999943" fill="#666" stroke="#2a2a2a" stroke-width="0.6"/>
<rect x="116.2" y="535.5" width="3.6" height="21.600000000000023" rx="1" fill="#5a5a5a" stroke="#2a2a2a" stroke-width="0.6"/>
<rect x="119.5" y="541.0" width="2.8" height="10.600000000000023" fill="#666" stroke="#2a2a2a" stroke-width="0.6"/>
<path d="M38.3 518.4 Q35.8 527.4 38.3 536.4" fill="none" stroke="#111" stroke-width="1.3"/>
<path d="M112.4 518.4 Q114.9 527.4 112.4 536.4" fill="none" stroke="#111" stroke-width="1.3"/>
<rect x="39.6" y="495.59999999999997" width="16.2" height="11.2" fill="#e4e4e4" stroke="#1e1e1e" stroke-width="1.1"/>
<text x="78.2" y="504.79999999999995" font-size="5.2" font-weight="bold" fill="#fafafa" textLength="18.8" lengthAdjust="spacingAndGlyphs"><tspan fill="#ff7a20">b</tspan>ticino</text>
<text x="78.5" y="509.2" font-size="3.4" font-weight="bold" fill="#333" textLength="18.5" lengthAdjust="spacingAndGlyphs">ART351300</text>
<rect x="98.5" y="499.4" width="13.8" height="48" fill="#d6d6d6" stroke="#222" stroke-width="0.9"/>
<rect x="38.5" y="509.5" width="18.2" height="29.2" fill="#c9c9c9" stroke="#3a3a3a" stroke-width="0.8"/>
<rect x="50.5" y="516.4" width="2.5" height="12" fill="#777"/>
<rect x="58" y="520.6" width="9.6" height="3.2" rx="1.5" fill="#e6e6e6" stroke="#222" stroke-width="0.8"/>
<rect x="60.5" y="521.6999999999999" width="3" height="1" fill="#333"/>
<rect x="58" y="524.0" width="9.6" height="3.2" rx="1.5" fill="#e6e6e6" stroke="#222" stroke-width="0.8"/>
<rect x="60.5" y="525.0999999999999" width="3" height="1" fill="#333"/>
<rect x="58" y="527.4" width="9.6" height="3.2" rx="1.5" fill="#e6e6e6" stroke="#222" stroke-width="0.8"/>
<rect x="60.5" y="528.4999999999999" width="3" height="1" fill="#333"/>
<rect x="58" y="530.8000000000001" width="9.6" height="3.2" rx="1.5" fill="#e6e6e6" stroke="#222" stroke-width="0.8"/>
<rect x="60.5" y="531.9" width="3" height="1" fill="#333"/>
<rect x="39.6" y="539.8" width="16.2" height="11.3" fill="#e6e6e6" stroke="#1e1e1e" stroke-width="1.1"/>
<rect x="39.6" y="551.1" width="16.2" height="11.8" fill="#e6e6e6" stroke="#1e1e1e" stroke-width="1.1"/>
<text x="57.4" y="547.8" font-size="4.8" font-weight="bold" fill="#222">IN</text>
<text x="56.5" y="559.8" font-size="4.8" font-weight="bold" fill="#222">OUT</text>
<rect x="69.2" y="544.8" width="38.3" height="3.4" fill="#555"/>
<text x="71.2" y="547.4" font-size="2.6" fill="#ddd" textLength="34.3" lengthAdjust="spacingAndGlyphs">BUS1 BUS2 PL PL 12V S- S+</text>
<rect x="69.2" y="548.4" width="39.3" height="14.8" fill="#111" stroke="#222" stroke-width="0.6"/>
<rect x="71.8" y="552.3" width="3.7" height="4.6" fill="#8ee02a"/><rect x="72.8" y="553.4" width="1.7" height="2.4" fill="#222"/>
<line x1="72.0" y1="561.0" x2="75.2" y2="558.6" stroke="#9ad85a" stroke-width="1"/>
<rect x="76.3" y="552.3" width="3.7" height="4.6" fill="#8ee02a"/><rect x="77.3" y="553.4" width="1.7" height="2.4" fill="#222"/>
<line x1="76.5" y1="561.0" x2="79.7" y2="558.6" stroke="#9ad85a" stroke-width="1"/>
<rect x="80.8" y="552.3" width="3.7" height="4.6" fill="#8ee02a"/><rect x="81.8" y="553.4" width="1.7" height="2.4" fill="#222"/>
<line x1="81.0" y1="561.0" x2="84.2" y2="558.6" stroke="#9ad85a" stroke-width="1"/>
<rect x="85.3" y="552.3" width="3.7" height="4.6" fill="#8ee02a"/><rect x="86.3" y="553.4" width="1.7" height="2.4" fill="#222"/>
<line x1="85.5" y1="561.0" x2="88.7" y2="558.6" stroke="#9ad85a" stroke-width="1"/>
<rect x="89.8" y="552.3" width="3.7" height="4.6" fill="#8ee02a"/><rect x="90.8" y="553.4" width="1.7" height="2.4" fill="#222"/>
<line x1="90.0" y1="561.0" x2="93.2" y2="558.6" stroke="#9ad85a" stroke-width="1"/>
<rect x="94.3" y="552.3" width="3.7" height="4.6" fill="#8ee02a"/><rect x="95.3" y="553.4" width="1.7" height="2.4" fill="#222"/>
<line x1="94.5" y1="561.0" x2="97.7" y2="558.6" stroke="#9ad85a" stroke-width="1"/>
<rect x="98.8" y="552.3" width="3.7" height="4.6" fill="#8ee02a"/><rect x="99.8" y="553.4" width="1.7" height="2.4" fill="#222"/>
<line x1="99.0" y1="561.0" x2="102.2" y2="558.6" stroke="#9ad85a" stroke-width="1"/>
<rect x="103.3" y="552.3" width="3.7" height="4.6" fill="#8ee02a"/><rect x="104.3" y="553.4" width="1.7" height="2.4" fill="#222"/>
<line x1="103.5" y1="561.0" x2="106.7" y2="558.6" stroke="#9ad85a" stroke-width="1"/>
<rect x="20" y="410.3" width="98" height="3" fill="#adadad"/>
<line x1="109.8" y1="302.3" x2="51.2" y2="364" stroke="#3a4aa8" stroke-width="0.9"/>
<path d="M49.8 365.3 L52.2 360.6 L54.6 363 Z" fill="#3a4aa8"/>
<circle cx="138.4" cy="278.3" r="35.4" fill="#b2b2b2" stroke="#4a58aa" stroke-width="1"/>
<path d="M108.7 278.3 V259.8 H109.90 V257.6 H114.00 V259.8 H116.45 V257.6 H120.55 V259.8 H123.00 V257.6 H127.10 V259.8 H129.55 V257.6 H133.65 V259.8 H136.10 V257.6 H140.20 V259.8 H142.65 V257.6 H146.75 V259.8 H149.20 V257.6 H153.30 V259.8 H155.75 V257.6 H159.85 V259.8 H162.30 V257.6 H166.40 V259.8 H167.6 V278.3 Z" fill="#c4c4c4" stroke="#2a2a2a" stroke-width="0.7"/>
<line x1="122" y1="259.8" x2="122" y2="278.3" stroke="#333" stroke-width="0.6"/>
<line x1="134.9" y1="259.8" x2="134.9" y2="278.3" stroke="#333" stroke-width="0.6"/>
<line x1="141.4" y1="259.8" x2="141.4" y2="278.3" stroke="#333" stroke-width="0.6"/>
<line x1="147.9" y1="259.8" x2="147.9" y2="278.3" stroke="#333" stroke-width="0.6"/>
<line x1="154.7" y1="259.8" x2="154.7" y2="278.3" stroke="#333" stroke-width="0.6"/>
<line x1="160.8" y1="259.8" x2="160.8" y2="278.3" stroke="#333" stroke-width="0.6"/>
<line x1="115.5" y1="259.8" x2="115.5" y2="262.5" stroke="#333" stroke-width="0.6"/><line x1="115.5" y1="275.5" x2="115.5" y2="278.3" stroke="#333" stroke-width="0.6"/>
<line x1="128.5" y1="259.8" x2="128.5" y2="262.5" stroke="#333" stroke-width="0.6"/><line x1="128.5" y1="275.5" x2="128.5" y2="278.3" stroke="#333" stroke-width="0.6"/>
<rect x="113.9" y="278.3" width="2.6" height="2.7" fill="#8a8a8a" stroke="#333" stroke-width="0.4"/>
<rect x="120.45" y="278.3" width="2.6" height="2.7" fill="#8a8a8a" stroke="#333" stroke-width="0.4"/>
<rect x="127.0" y="278.3" width="2.6" height="2.7" fill="#8a8a8a" stroke="#333" stroke-width="0.4"/>
<rect x="133.54999999999998" y="278.3" width="2.6" height="2.7" fill="#8a8a8a" stroke="#333" stroke-width="0.4"/>
<rect x="140.1" y="278.3" width="2.6" height="2.7" fill="#8a8a8a" stroke="#333" stroke-width="0.4"/>
<rect x="146.64999999999998" y="278.3" width="2.6" height="2.7" fill="#8a8a8a" stroke="#333" stroke-width="0.4"/>
<rect x="153.2" y="278.3" width="2.6" height="2.7" fill="#8a8a8a" stroke="#333" stroke-width="0.4"/>
<rect x="159.75" y="278.3" width="2.6" height="2.7" fill="#8a8a8a" stroke="#333" stroke-width="0.4"/>
<rect x="166.29999999999998" y="278.3" width="2.6" height="2.7" fill="#8a8a8a" stroke="#333" stroke-width="0.4"/>
<text x="115.5" y="272.6" font-size="7.6" font-weight="bold" fill="#111" text-anchor="middle" textLength="4.4" lengthAdjust="spacingAndGlyphs">P</text>
<text x="128.5" y="272.6" font-size="7.6" font-weight="bold" fill="#111" text-anchor="middle" textLength="4.4" lengthAdjust="spacingAndGlyphs">N</text>
<text x="137.8" y="272.6" font-size="7.6" font-weight="bold" fill="#111" text-anchor="middle" textLength="4.4" lengthAdjust="spacingAndGlyphs">S</text>
<text x="144.5" y="272.6" font-size="7.6" font-weight="bold" fill="#111" text-anchor="middle" textLength="4.4" lengthAdjust="spacingAndGlyphs">T</text>
<text x="151.1" y="272.6" font-size="7.6" font-weight="bold" fill="#111" text-anchor="middle" textLength="5.6" lengthAdjust="spacingAndGlyphs">M</text>
<text x="157.7" y="266.3" font-size="6.4" font-weight="bold" fill="#111" text-anchor="middle">J</text>
<text x="164.2" y="266.3" font-size="6.4" font-weight="bold" fill="#111" text-anchor="middle">J</text>
<text x="157.7" y="274.8" font-size="6.4" font-weight="bold" fill="#111" text-anchor="middle">1</text>
<text x="164.2" y="274.8" font-size="6.4" font-weight="bold" fill="#111" text-anchor="middle">2</text>
<rect x="109.4" y="281" width="58.5" height="15.5" fill="#6f6f6f" stroke="#333" stroke-width="0.9"/>
<path d="M111.3 285.3 H113.89999999999999 M112.6 284.0 V286.6" stroke="#c8f08a" stroke-width="0.8"/>
<path d="M117.8 285.3 H120.39999999999999 M119.1 284.0 V286.6" stroke="#c8f08a" stroke-width="0.8"/>
<path d="M124.3 285.3 H126.89999999999999 M125.6 284.0 V286.6" stroke="#c8f08a" stroke-width="0.8"/>
<path d="M130.79999999999998 285.3 H133.4 M132.1 284.0 V286.6" stroke="#c8f08a" stroke-width="0.8"/>
<path d="M137.29999999999998 285.3 H139.9 M138.6 284.0 V286.6" stroke="#c8f08a" stroke-width="0.8"/>
<path d="M143.79999999999998 285.3 H146.4 M145.1 284.0 V286.6" stroke="#c8f08a" stroke-width="0.8"/>
<path d="M150.29999999999998 285.3 H152.9 M151.6 284.0 V286.6" stroke="#c8f08a" stroke-width="0.8"/>
<path d="M156.79999999999998 285.3 H159.4 M158.1 284.0 V286.6" stroke="#c8f08a" stroke-width="0.8"/>
<path d="M111.3 292.1 H113.89999999999999 M112.6 290.8 V293.40000000000003" stroke="#c8f08a" stroke-width="0.8"/>
<path d="M117.8 292.1 H120.39999999999999 M119.1 290.8 V293.40000000000003" stroke="#c8f08a" stroke-width="0.8"/>
<path d="M124.3 292.1 H126.89999999999999 M125.6 290.8 V293.40000000000003" stroke="#c8f08a" stroke-width="0.8"/>
<path d="M130.79999999999998 292.1 H133.4 M132.1 290.8 V293.40000000000003" stroke="#c8f08a" stroke-width="0.8"/>
<path d="M137.29999999999998 292.1 H139.9 M138.6 290.8 V293.40000000000003" stroke="#c8f08a" stroke-width="0.8"/>
<path d="M143.79999999999998 292.1 H146.4 M145.1 290.8 V293.40000000000003" stroke="#c8f08a" stroke-width="0.8"/>
<path d="M150.29999999999998 292.1 H152.9 M151.6 290.8 V293.40000000000003" stroke="#c8f08a" stroke-width="0.8"/>
<path d="M156.79999999999998 292.1 H159.4 M158.1 290.8 V293.40000000000003" stroke="#c8f08a" stroke-width="0.8"/>
<rect x="161.8" y="283" width="5" height="12.5" fill="#2ab02a"/>
<text x="0" y="0" font-size="4.2" font-weight="bold" fill="#fff" transform="translate(163.2 283.6) rotate(90)">JMP</text>
<text x="166.6" y="366.2" font-size="8.3" font-weight="bold" fill="#6a6a6a" textLength="57.4" lengthAdjust="spacingAndGlyphs">Pot.vrij contact</text>
<text x="166.6" y="375.2" font-size="8.3" font-weight="bold" fill="#6a6a6a" textLength="57.4" lengthAdjust="spacingAndGlyphs">tbv deuropener</text>
<rect x="166.3" y="377.2" width="57.9" height="29.3" fill="#ff6b0c" stroke="#c05010" stroke-width="0.6"/>
<line x1="166.3" y1="394.4" x2="224.2" y2="394.4" stroke="#c85a14" stroke-width="0.6"/>
<text x="169.6" y="392.3" font-size="7.6" fill="#1a1a1a" textLength="52.5" lengthAdjust="spacing">S-  S+ C NC NO</text>
<circle cx="172.6" cy="399.5" r="2.9" fill="#fff" stroke="#222" stroke-width="0.7"/><path d="M170.79999999999998 399.5 H174.4 M172.6 397.7 V401.3" stroke="#222" stroke-width="0.8"/>
<circle cx="184.2" cy="399.5" r="2.9" fill="#fff" stroke="#222" stroke-width="0.7"/><path d="M182.39999999999998 399.5 H186.0 M184.2 397.7 V401.3" stroke="#222" stroke-width="0.8"/>
<circle cx="195.2" cy="399.5" r="2.9" fill="#fff" stroke="#222" stroke-width="0.7"/><path d="M193.39999999999998 399.5 H197.0 M195.2 397.7 V401.3" stroke="#222" stroke-width="0.8"/>
<circle cx="206.3" cy="399.5" r="2.9" fill="#fff" stroke="#222" stroke-width="0.7"/><path d="M204.5 399.5 H208.10000000000002 M206.3 397.7 V401.3" stroke="#222" stroke-width="0.8"/>
<circle cx="217.3" cy="399.5" r="2.9" fill="#fff" stroke="#222" stroke-width="0.7"/><path d="M215.5 399.5 H219.10000000000002 M217.3 397.7 V401.3" stroke="#222" stroke-width="0.8"/>
<rect x="168.5" y="406.3" width="8" height="1.6" fill="#e6a070"/>
<rect x="180.5" y="406.3" width="8" height="1.6" fill="#e6a070"/>
<rect x="191.5" y="406.3" width="8" height="1.6" fill="#e6a070"/>
<rect x="202.5" y="406.3" width="8" height="1.6" fill="#e6a070"/>
<rect x="213.5" y="406.3" width="8" height="1.6" fill="#e6a070"/>
<path d="M687.6 392.9 C683.5 396 682.2 400 682.2 403.2 C682.2 406.5 683.5 410.5 687.6 413.4 Z" fill="#a0a0a0" stroke="#2a2a2a" stroke-width="0.9"/>
<path d="M744.7 392.9 C748.8 396 750.2 400 750.2 403.2 C750.2 406.5 748.8 410.5 744.7 413.4 Z" fill="#a0a0a0" stroke="#2a2a2a" stroke-width="0.9"/>
<circle cx="684.4" cy="403.4" r="0.8" fill="#eee"/><circle cx="748" cy="403.4" r="0.8" fill="#eee"/>
<rect x="687.4" y="376.3" width="57.5" height="57.099999999999966" fill="#9a9a9a" stroke="#2a2a2a" stroke-width="1"/>
<line x1="693.7" y1="378.5" x2="693.7" y2="391" stroke="#b5b5b5" stroke-width="0.6"/>
<line x1="704.6" y1="378.5" x2="704.6" y2="391" stroke="#b5b5b5" stroke-width="0.6"/>
<line x1="716.6" y1="378.5" x2="716.6" y2="391" stroke="#b5b5b5" stroke-width="0.6"/>
<line x1="728" y1="378.5" x2="728" y2="391" stroke="#b5b5b5" stroke-width="0.6"/>
<line x1="738.9" y1="378.5" x2="738.9" y2="391" stroke="#b5b5b5" stroke-width="0.6"/>
<circle cx="696" cy="380.9" r="2.3" fill="#e8e8e8" stroke="#111" stroke-width="0.9"/><line x1="694.5" y1="382.3" x2="697.5" y2="379.5" stroke="#111" stroke-width="0.7"/>
<circle cx="701.1" cy="380.9" r="2.3" fill="#e8e8e8" stroke="#111" stroke-width="0.9"/><line x1="699.6" y1="382.3" x2="702.6" y2="379.5" stroke="#111" stroke-width="0.7"/>
<circle cx="707.4" cy="380.9" r="2.3" fill="#e8e8e8" stroke="#111" stroke-width="0.9"/><line x1="705.9" y1="382.3" x2="708.9" y2="379.5" stroke="#111" stroke-width="0.7"/>
<circle cx="713.1" cy="380.9" r="2.3" fill="#e8e8e8" stroke="#111" stroke-width="0.9"/><line x1="711.6" y1="382.3" x2="714.6" y2="379.5" stroke="#111" stroke-width="0.7"/>
<circle cx="719.4" cy="380.9" r="2.3" fill="#e8e8e8" stroke="#111" stroke-width="0.9"/><line x1="717.9" y1="382.3" x2="720.9" y2="379.5" stroke="#111" stroke-width="0.7"/>
<circle cx="724.6" cy="380.9" r="2.3" fill="#e8e8e8" stroke="#111" stroke-width="0.9"/><line x1="723.1" y1="382.3" x2="726.1" y2="379.5" stroke="#111" stroke-width="0.7"/>
<circle cx="730.3" cy="380.9" r="2.3" fill="#e8e8e8" stroke="#111" stroke-width="0.9"/><line x1="728.8" y1="382.3" x2="731.8" y2="379.5" stroke="#111" stroke-width="0.7"/>
<circle cx="735.4" cy="380.9" r="2.3" fill="#e8e8e8" stroke="#111" stroke-width="0.9"/><line x1="733.9" y1="382.3" x2="736.9" y2="379.5" stroke="#111" stroke-width="0.7"/>
<text x="699.2" y="390.4" font-size="6.6" font-weight="bold" fill="#f0f0f0" text-anchor="middle">P1</text>
<text x="710.4" y="390.4" font-size="6.6" font-weight="bold" fill="#f0f0f0" text-anchor="middle">P2</text>
<text x="722.2" y="390.4" font-size="6.6" font-weight="bold" fill="#f0f0f0" text-anchor="middle">P3</text>
<text x="733.4" y="390.4" font-size="6.6" font-weight="bold" fill="#f0f0f0" text-anchor="middle">P4</text>
<text x="692" y="401.4" font-size="8.2" font-weight="bold" fill="#fafafa" textLength="28.6" lengthAdjust="spacingAndGlyphs">346841</text>
<text x="730.2" y="401.4" font-size="8.2" font-weight="bold" fill="#fafafa" textLength="12.2" lengthAdjust="spacing">V V</text>
<text x="698" y="409.8" font-size="10" font-weight="bold" fill="#111" stroke="#111" stroke-width="0.6" textLength="37.8" lengthAdjust="spacingAndGlyphs"><tspan fill="#ff6a13" stroke="#ff6a13">b</tspan>ticino</text>
<line x1="708.3" y1="413" x2="708.3" y2="433" stroke="#bbb" stroke-width="0.6"/><line x1="723.7" y1="413" x2="723.7" y2="433" stroke="#bbb" stroke-width="0.6"/>
<text x="716" y="418.3" font-size="5.6" font-weight="bold" fill="#f4f4f4" text-anchor="middle">IN</text>
<text x="716" y="423.9" font-size="5.6" font-weight="bold" fill="#f4f4f4" text-anchor="middle" textLength="10" lengthAdjust="spacingAndGlyphs">OUT</text>
<circle cx="713.4" cy="427.8" r="2.6" fill="#fff" stroke="#222" stroke-width="0.8"/><line x1="711.5799999999999" y1="429.62" x2="715.22" y2="425.98" stroke="#222" stroke-width="0.7"/>
<circle cx="719.9" cy="427.8" r="2.6" fill="#fff" stroke="#222" stroke-width="0.8"/><line x1="718.0799999999999" y1="429.62" x2="721.72" y2="425.98" stroke="#222" stroke-width="0.7"/>
<rect x="401.5" y="485.6" width="37" height="82" rx="3" fill="#e2e2e2" stroke="#3a3a3a" stroke-width="1"/>
<rect x="403.2" y="494.1" width="14.9" height="8.3" fill="#8ee02a" stroke="#222" stroke-width="0.8"/>
<path d="M407.2 494.1 L410.65 497.5 L414.09999999999997 494.1 M407.2 502.4 L410.65 499.5 L414.09999999999997 502.4" fill="#111"/>
<rect x="421.3" y="494.1" width="14.9" height="8.3" fill="#8ee02a" stroke="#222" stroke-width="0.8"/>
<path d="M425.3 494.1 L428.75 497.5 L432.2 494.1 M425.3 502.4 L428.75 499.5 L432.2 502.4" fill="#111"/>
<circle cx="406.9" cy="498.5" r="2.1" fill="#666" stroke="#111" stroke-width="0.7"/><line x1="405.59999999999997" y1="499.8" x2="408.2" y2="497.2" stroke="#eee" stroke-width="0.6"/>
<circle cx="414.3" cy="498.5" r="2.1" fill="#666" stroke="#111" stroke-width="0.7"/><line x1="413.0" y1="499.8" x2="415.6" y2="497.2" stroke="#eee" stroke-width="0.6"/>
<circle cx="425" cy="498.5" r="2.1" fill="#666" stroke="#111" stroke-width="0.7"/><line x1="423.7" y1="499.8" x2="426.3" y2="497.2" stroke="#eee" stroke-width="0.6"/>
<circle cx="432.4" cy="498.5" r="2.1" fill="#666" stroke="#111" stroke-width="0.7"/><line x1="431.09999999999997" y1="499.8" x2="433.7" y2="497.2" stroke="#eee" stroke-width="0.6"/>
<rect x="403.6" y="503.2" width="32.2" height="42" fill="#fff" stroke="#888" stroke-width="0.6"/>
<text x="404.5" y="507" font-size="3.2" fill="#aaa">BUS TR</text>
<rect x="421.5" y="504" width="2.3" height="3" fill="#f07a20"/>
<rect x="424" y="504.3" width="11" height="2.4" fill="#333"/>
<rect x="421.5" y="507.3" width="13.5" height="2.3" fill="#999"/>
<text x="405.4" y="519.6" font-size="8.4" font-weight="bold" fill="#111" textLength="27.7" lengthAdjust="spacingAndGlyphs">346830</text>
<circle cx="408.6" cy="525.3" r="1.4" fill="#222"/>
<circle cx="415.4" cy="525.3" r="1.4" fill="#222"/>
<circle cx="422.4" cy="525.3" r="1.4" fill="#222"/>
<circle cx="429.3" cy="525.3" r="1.4" fill="#222"/>
<circle cx="408.6" cy="531.6" r="1.4" fill="#222"/>
<circle cx="415.4" cy="531.6" r="1.4" fill="#222"/>
<circle cx="422.4" cy="531.6" r="1.4" fill="#222"/>
<circle cx="429.3" cy="531.6" r="1.4" fill="#222"/>
<text x="406" y="543.6" font-size="9.5" fill="#8a8a8a" textLength="15" lengthAdjust="spacingAndGlyphs">AV</text>
<path d="M404.2 529 V544.9 H435.5" fill="none" stroke="#e02020" stroke-width="1"/>
<text x="407" y="549.8" font-size="4.6" fill="#999">P S</text>
<rect x="403.2" y="551.3" width="14.6" height="7.7" fill="#8ee02a" stroke="#222" stroke-width="0.8"/>
<path d="M407.2 551.3 L410.5 554.3 L413.8 551.3 M407.2 559 L410.5 556.2 L413.8 559" fill="#111"/>
<circle cx="407" cy="555.2" r="1.9" fill="#666" stroke="#111" stroke-width="0.7"/><line x1="405.8" y1="556.4" x2="408.2" y2="554" stroke="#eee" stroke-width="0.5"/>
<circle cx="414.5" cy="555.2" r="1.9" fill="#666" stroke="#111" stroke-width="0.7"/><line x1="413.3" y1="556.4" x2="415.7" y2="554" stroke="#eee" stroke-width="0.5"/>
<rect x="419.3" y="552.5" width="16.6" height="6.6" fill="#22aa22" stroke="#1a5a1a" stroke-width="0.6"/>
<rect x="561.6" y="494.2" width="120" height="65.3" rx="2" fill="#e3e3e3" stroke="#333" stroke-width="1"/>
<rect x="566.00" y="494.3" width="2.5" height="2.4" rx="0.4" fill="#1e1e1e"/><rect x="566.80" y="495.05" width="0.9" height="0.9" fill="#d8d8d8"/><rect x="569.60" y="494.3" width="2.5" height="2.4" rx="0.4" fill="#1e1e1e"/><rect x="570.40" y="495.05" width="0.9" height="0.9" fill="#d8d8d8"/><rect x="573.20" y="494.3" width="2.5" height="2.4" rx="0.4" fill="#1e1e1e"/><rect x="574.00" y="495.05" width="0.9" height="0.9" fill="#d8d8d8"/><rect x="576.80" y="494.3" width="2.5" height="2.4" rx="0.4" fill="#1e1e1e"/><rect x="577.60" y="495.05" width="0.9" height="0.9" fill="#d8d8d8"/><rect x="580.40" y="494.3" width="2.5" height="2.4" rx="0.4" fill="#1e1e1e"/><rect x="581.20" y="495.05" width="0.9" height="0.9" fill="#d8d8d8"/><rect x="584.00" y="494.3" width="2.5" height="2.4" rx="0.4" fill="#1e1e1e"/><rect x="584.80" y="495.05" width="0.9" height="0.9" fill="#d8d8d8"/><rect x="587.60" y="494.3" width="2.5" height="2.4" rx="0.4" fill="#1e1e1e"/><rect x="588.40" y="495.05" width="0.9" height="0.9" fill="#d8d8d8"/><rect x="591.20" y="494.3" width="2.5" height="2.4" rx="0.4" fill="#1e1e1e"/><rect x="592.00" y="495.05" width="0.9" height="0.9" fill="#d8d8d8"/><rect x="594.80" y="494.3" width="2.5" height="2.4" rx="0.4" fill="#1e1e1e"/><rect x="595.60" y="495.05" width="0.9" height="0.9" fill="#d8d8d8"/><rect x="598.40" y="494.3" width="2.5" height="2.4" rx="0.4" fill="#1e1e1e"/><rect x="599.20" y="495.05" width="0.9" height="0.9" fill="#d8d8d8"/><rect x="602.00" y="494.3" width="2.5" height="2.4" rx="0.4" fill="#1e1e1e"/><rect x="602.80" y="495.05" width="0.9" height="0.9" fill="#d8d8d8"/><rect x="605.60" y="494.3" width="2.5" height="2.4" rx="0.4" fill="#1e1e1e"/><rect x="606.40" y="495.05" width="0.9" height="0.9" fill="#d8d8d8"/><rect x="609.20" y="494.3" width="2.5" height="2.4" rx="0.4" fill="#1e1e1e"/><rect x="610.00" y="495.05" width="0.9" height="0.9" fill="#d8d8d8"/><rect x="612.80" y="494.3" width="2.5" height="2.4" rx="0.4" fill="#1e1e1e"/><rect x="613.60" y="495.05" width="0.9" height="0.9" fill="#d8d8d8"/><rect x="616.40" y="494.3" width="2.5" height="2.4" rx="0.4" fill="#1e1e1e"/><rect x="617.20" y="495.05" width="0.9" height="0.9" fill="#d8d8d8"/><rect x="620.00" y="494.3" width="2.5" height="2.4" rx="0.4" fill="#1e1e1e"/><rect x="620.80" y="495.05" width="0.9" height="0.9" fill="#d8d8d8"/><rect x="623.60" y="494.3" width="2.5" height="2.4" rx="0.4" fill="#1e1e1e"/><rect x="624.40" y="495.05" width="0.9" height="0.9" fill="#d8d8d8"/><rect x="627.20" y="494.3" width="2.5" height="2.4" rx="0.4" fill="#1e1e1e"/><rect x="628.00" y="495.05" width="0.9" height="0.9" fill="#d8d8d8"/><rect x="630.80" y="494.3" width="2.5" height="2.4" rx="0.4" fill="#1e1e1e"/><rect x="631.60" y="495.05" width="0.9" height="0.9" fill="#d8d8d8"/><rect x="634.40" y="494.3" width="2.5" height="2.4" rx="0.4" fill="#1e1e1e"/><rect x="635.20" y="495.05" width="0.9" height="0.9" fill="#d8d8d8"/><rect x="638.00" y="494.3" width="2.5" height="2.4" rx="0.4" fill="#1e1e1e"/><rect x="638.80" y="495.05" width="0.9" height="0.9" fill="#d8d8d8"/><rect x="641.60" y="494.3" width="2.5" height="2.4" rx="0.4" fill="#1e1e1e"/><rect x="642.40" y="495.05" width="0.9" height="0.9" fill="#d8d8d8"/><rect x="645.20" y="494.3" width="2.5" height="2.4" rx="0.4" fill="#1e1e1e"/><rect x="646.00" y="495.05" width="0.9" height="0.9" fill="#d8d8d8"/><rect x="648.80" y="494.3" width="2.5" height="2.4" rx="0.4" fill="#1e1e1e"/><rect x="649.60" y="495.05" width="0.9" height="0.9" fill="#d8d8d8"/><rect x="652.40" y="494.3" width="2.5" height="2.4" rx="0.4" fill="#1e1e1e"/><rect x="653.20" y="495.05" width="0.9" height="0.9" fill="#d8d8d8"/><rect x="656.00" y="494.3" width="2.5" height="2.4" rx="0.4" fill="#1e1e1e"/><rect x="656.80" y="495.05" width="0.9" height="0.9" fill="#d8d8d8"/><rect x="659.60" y="494.3" width="2.5" height="2.4" rx="0.4" fill="#1e1e1e"/><rect x="660.40" y="495.05" width="0.9" height="0.9" fill="#d8d8d8"/><rect x="663.20" y="494.3" width="2.5" height="2.4" rx="0.4" fill="#1e1e1e"/><rect x="664.00" y="495.05" width="0.9" height="0.9" fill="#d8d8d8"/><rect x="666.80" y="494.3" width="2.5" height="2.4" rx="0.4" fill="#1e1e1e"/><rect x="667.60" y="495.05" width="0.9" height="0.9" fill="#d8d8d8"/><rect x="670.40" y="494.3" width="2.5" height="2.4" rx="0.4" fill="#1e1e1e"/><rect x="671.20" y="495.05" width="0.9" height="0.9" fill="#d8d8d8"/>
<rect x="566.00" y="512.9" width="2.5" height="2.4" rx="0.4" fill="#1e1e1e"/><rect x="566.80" y="513.65" width="0.9" height="0.9" fill="#d8d8d8"/><rect x="569.60" y="512.9" width="2.5" height="2.4" rx="0.4" fill="#1e1e1e"/><rect x="570.40" y="513.65" width="0.9" height="0.9" fill="#d8d8d8"/><rect x="573.20" y="512.9" width="2.5" height="2.4" rx="0.4" fill="#1e1e1e"/><rect x="574.00" y="513.65" width="0.9" height="0.9" fill="#d8d8d8"/><rect x="576.80" y="512.9" width="2.5" height="2.4" rx="0.4" fill="#1e1e1e"/><rect x="577.60" y="513.65" width="0.9" height="0.9" fill="#d8d8d8"/><rect x="580.40" y="512.9" width="2.5" height="2.4" rx="0.4" fill="#1e1e1e"/><rect x="581.20" y="513.65" width="0.9" height="0.9" fill="#d8d8d8"/><rect x="584.00" y="512.9" width="2.5" height="2.4" rx="0.4" fill="#1e1e1e"/><rect x="584.80" y="513.65" width="0.9" height="0.9" fill="#d8d8d8"/><rect x="587.60" y="512.9" width="2.5" height="2.4" rx="0.4" fill="#1e1e1e"/><rect x="588.40" y="513.65" width="0.9" height="0.9" fill="#d8d8d8"/><rect x="591.20" y="512.9" width="2.5" height="2.4" rx="0.4" fill="#1e1e1e"/><rect x="592.00" y="513.65" width="0.9" height="0.9" fill="#d8d8d8"/><rect x="594.80" y="512.9" width="2.5" height="2.4" rx="0.4" fill="#1e1e1e"/><rect x="595.60" y="513.65" width="0.9" height="0.9" fill="#d8d8d8"/><rect x="598.40" y="512.9" width="2.5" height="2.4" rx="0.4" fill="#1e1e1e"/><rect x="599.20" y="513.65" width="0.9" height="0.9" fill="#d8d8d8"/><rect x="602.00" y="512.9" width="2.5" height="2.4" rx="0.4" fill="#1e1e1e"/><rect x="602.80" y="513.65" width="0.9" height="0.9" fill="#d8d8d8"/><rect x="605.60" y="512.9" width="2.5" height="2.4" rx="0.4" fill="#1e1e1e"/><rect x="606.40" y="513.65" width="0.9" height="0.9" fill="#d8d8d8"/><rect x="609.20" y="512.9" width="2.5" height="2.4" rx="0.4" fill="#1e1e1e"/><rect x="610.00" y="513.65" width="0.9" height="0.9" fill="#d8d8d8"/><rect x="612.80" y="512.9" width="2.5" height="2.4" rx="0.4" fill="#1e1e1e"/><rect x="613.60" y="513.65" width="0.9" height="0.9" fill="#d8d8d8"/><rect x="616.40" y="512.9" width="2.5" height="2.4" rx="0.4" fill="#1e1e1e"/><rect x="617.20" y="513.65" width="0.9" height="0.9" fill="#d8d8d8"/><rect x="620.00" y="512.9" width="2.5" height="2.4" rx="0.4" fill="#1e1e1e"/><rect x="620.80" y="513.65" width="0.9" height="0.9" fill="#d8d8d8"/><rect x="623.60" y="512.9" width="2.5" height="2.4" rx="0.4" fill="#1e1e1e"/><rect x="624.40" y="513.65" width="0.9" height="0.9" fill="#d8d8d8"/><rect x="627.20" y="512.9" width="2.5" height="2.4" rx="0.4" fill="#1e1e1e"/><rect x="628.00" y="513.65" width="0.9" height="0.9" fill="#d8d8d8"/><rect x="630.80" y="512.9" width="2.5" height="2.4" rx="0.4" fill="#1e1e1e"/><rect x="631.60" y="513.65" width="0.9" height="0.9" fill="#d8d8d8"/><rect x="634.40" y="512.9" width="2.5" height="2.4" rx="0.4" fill="#1e1e1e"/><rect x="635.20" y="513.65" width="0.9" height="0.9" fill="#d8d8d8"/><rect x="638.00" y="512.9" width="2.5" height="2.4" rx="0.4" fill="#1e1e1e"/><rect x="638.80" y="513.65" width="0.9" height="0.9" fill="#d8d8d8"/><rect x="641.60" y="512.9" width="2.5" height="2.4" rx="0.4" fill="#1e1e1e"/><rect x="642.40" y="513.65" width="0.9" height="0.9" fill="#d8d8d8"/><rect x="645.20" y="512.9" width="2.5" height="2.4" rx="0.4" fill="#1e1e1e"/><rect x="646.00" y="513.65" width="0.9" height="0.9" fill="#d8d8d8"/><rect x="648.80" y="512.9" width="2.5" height="2.4" rx="0.4" fill="#1e1e1e"/><rect x="649.60" y="513.65" width="0.9" height="0.9" fill="#d8d8d8"/><rect x="652.40" y="512.9" width="2.5" height="2.4" rx="0.4" fill="#1e1e1e"/><rect x="653.20" y="513.65" width="0.9" height="0.9" fill="#d8d8d8"/><rect x="656.00" y="512.9" width="2.5" height="2.4" rx="0.4" fill="#1e1e1e"/><rect x="656.80" y="513.65" width="0.9" height="0.9" fill="#d8d8d8"/><rect x="659.60" y="512.9" width="2.5" height="2.4" rx="0.4" fill="#1e1e1e"/><rect x="660.40" y="513.65" width="0.9" height="0.9" fill="#d8d8d8"/><rect x="663.20" y="512.9" width="2.5" height="2.4" rx="0.4" fill="#1e1e1e"/><rect x="664.00" y="513.65" width="0.9" height="0.9" fill="#d8d8d8"/><rect x="666.80" y="512.9" width="2.5" height="2.4" rx="0.4" fill="#1e1e1e"/><rect x="667.60" y="513.65" width="0.9" height="0.9" fill="#d8d8d8"/><rect x="670.40" y="512.9" width="2.5" height="2.4" rx="0.4" fill="#1e1e1e"/><rect x="671.20" y="513.65" width="0.9" height="0.9" fill="#d8d8d8"/>
<rect x="566.00" y="538.6" width="2.5" height="2.4" rx="0.4" fill="#1e1e1e"/><rect x="566.80" y="539.35" width="0.9" height="0.9" fill="#d8d8d8"/><rect x="569.60" y="538.6" width="2.5" height="2.4" rx="0.4" fill="#1e1e1e"/><rect x="570.40" y="539.35" width="0.9" height="0.9" fill="#d8d8d8"/><rect x="573.20" y="538.6" width="2.5" height="2.4" rx="0.4" fill="#1e1e1e"/><rect x="574.00" y="539.35" width="0.9" height="0.9" fill="#d8d8d8"/><rect x="576.80" y="538.6" width="2.5" height="2.4" rx="0.4" fill="#1e1e1e"/><rect x="577.60" y="539.35" width="0.9" height="0.9" fill="#d8d8d8"/><rect x="580.40" y="538.6" width="2.5" height="2.4" rx="0.4" fill="#1e1e1e"/><rect x="581.20" y="539.35" width="0.9" height="0.9" fill="#d8d8d8"/><rect x="584.00" y="538.6" width="2.5" height="2.4" rx="0.4" fill="#1e1e1e"/><rect x="584.80" y="539.35" width="0.9" height="0.9" fill="#d8d8d8"/><rect x="587.60" y="538.6" width="2.5" height="2.4" rx="0.4" fill="#1e1e1e"/><rect x="588.40" y="539.35" width="0.9" height="0.9" fill="#d8d8d8"/><rect x="591.20" y="538.6" width="2.5" height="2.4" rx="0.4" fill="#1e1e1e"/><rect x="592.00" y="539.35" width="0.9" height="0.9" fill="#d8d8d8"/><rect x="594.80" y="538.6" width="2.5" height="2.4" rx="0.4" fill="#1e1e1e"/><rect x="595.60" y="539.35" width="0.9" height="0.9" fill="#d8d8d8"/><rect x="598.40" y="538.6" width="2.5" height="2.4" rx="0.4" fill="#1e1e1e"/><rect x="599.20" y="539.35" width="0.9" height="0.9" fill="#d8d8d8"/><rect x="602.00" y="538.6" width="2.5" height="2.4" rx="0.4" fill="#1e1e1e"/><rect x="602.80" y="539.35" width="0.9" height="0.9" fill="#d8d8d8"/><rect x="605.60" y="538.6" width="2.5" height="2.4" rx="0.4" fill="#1e1e1e"/><rect x="606.40" y="539.35" width="0.9" height="0.9" fill="#d8d8d8"/><rect x="609.20" y="538.6" width="2.5" height="2.4" rx="0.4" fill="#1e1e1e"/><rect x="610.00" y="539.35" width="0.9" height="0.9" fill="#d8d8d8"/><rect x="612.80" y="538.6" width="2.5" height="2.4" rx="0.4" fill="#1e1e1e"/><rect x="613.60" y="539.35" width="0.9" height="0.9" fill="#d8d8d8"/><rect x="616.40" y="538.6" width="2.5" height="2.4" rx="0.4" fill="#1e1e1e"/><rect x="617.20" y="539.35" width="0.9" height="0.9" fill="#d8d8d8"/><rect x="620.00" y="538.6" width="2.5" height="2.4" rx="0.4" fill="#1e1e1e"/><rect x="620.80" y="539.35" width="0.9" height="0.9" fill="#d8d8d8"/><rect x="623.60" y="538.6" width="2.5" height="2.4" rx="0.4" fill="#1e1e1e"/><rect x="624.40" y="539.35" width="0.9" height="0.9" fill="#d8d8d8"/><rect x="627.20" y="538.6" width="2.5" height="2.4" rx="0.4" fill="#1e1e1e"/><rect x="628.00" y="539.35" width="0.9" height="0.9" fill="#d8d8d8"/><rect x="630.80" y="538.6" width="2.5" height="2.4" rx="0.4" fill="#1e1e1e"/><rect x="631.60" y="539.35" width="0.9" height="0.9" fill="#d8d8d8"/><rect x="634.40" y="538.6" width="2.5" height="2.4" rx="0.4" fill="#1e1e1e"/><rect x="635.20" y="539.35" width="0.9" height="0.9" fill="#d8d8d8"/><rect x="638.00" y="538.6" width="2.5" height="2.4" rx="0.4" fill="#1e1e1e"/><rect x="638.80" y="539.35" width="0.9" height="0.9" fill="#d8d8d8"/><rect x="641.60" y="538.6" width="2.5" height="2.4" rx="0.4" fill="#1e1e1e"/><rect x="642.40" y="539.35" width="0.9" height="0.9" fill="#d8d8d8"/><rect x="645.20" y="538.6" width="2.5" height="2.4" rx="0.4" fill="#1e1e1e"/><rect x="646.00" y="539.35" width="0.9" height="0.9" fill="#d8d8d8"/><rect x="648.80" y="538.6" width="2.5" height="2.4" rx="0.4" fill="#1e1e1e"/><rect x="649.60" y="539.35" width="0.9" height="0.9" fill="#d8d8d8"/><rect x="652.40" y="538.6" width="2.5" height="2.4" rx="0.4" fill="#1e1e1e"/><rect x="653.20" y="539.35" width="0.9" height="0.9" fill="#d8d8d8"/><rect x="656.00" y="538.6" width="2.5" height="2.4" rx="0.4" fill="#1e1e1e"/><rect x="656.80" y="539.35" width="0.9" height="0.9" fill="#d8d8d8"/><rect x="659.60" y="538.6" width="2.5" height="2.4" rx="0.4" fill="#1e1e1e"/><rect x="660.40" y="539.35" width="0.9" height="0.9" fill="#d8d8d8"/><rect x="663.20" y="538.6" width="2.5" height="2.4" rx="0.4" fill="#1e1e1e"/><rect x="664.00" y="539.35" width="0.9" height="0.9" fill="#d8d8d8"/><rect x="666.80" y="538.6" width="2.5" height="2.4" rx="0.4" fill="#1e1e1e"/><rect x="667.60" y="539.35" width="0.9" height="0.9" fill="#d8d8d8"/><rect x="670.40" y="538.6" width="2.5" height="2.4" rx="0.4" fill="#1e1e1e"/><rect x="671.20" y="539.35" width="0.9" height="0.9" fill="#d8d8d8"/>
<rect x="592.30" y="557.0" width="2.5" height="2.4" rx="0.4" fill="#1e1e1e"/><rect x="593.10" y="557.75" width="0.9" height="0.9" fill="#d8d8d8"/><rect x="595.90" y="557.0" width="2.5" height="2.4" rx="0.4" fill="#1e1e1e"/><rect x="596.70" y="557.75" width="0.9" height="0.9" fill="#d8d8d8"/><rect x="599.50" y="557.0" width="2.5" height="2.4" rx="0.4" fill="#1e1e1e"/><rect x="600.30" y="557.75" width="0.9" height="0.9" fill="#d8d8d8"/><rect x="603.10" y="557.0" width="2.5" height="2.4" rx="0.4" fill="#1e1e1e"/><rect x="603.90" y="557.75" width="0.9" height="0.9" fill="#d8d8d8"/><rect x="606.70" y="557.0" width="2.5" height="2.4" rx="0.4" fill="#1e1e1e"/><rect x="607.50" y="557.75" width="0.9" height="0.9" fill="#d8d8d8"/><rect x="610.30" y="557.0" width="2.5" height="2.4" rx="0.4" fill="#1e1e1e"/><rect x="611.10" y="557.75" width="0.9" height="0.9" fill="#d8d8d8"/><rect x="613.90" y="557.0" width="2.5" height="2.4" rx="0.4" fill="#1e1e1e"/><rect x="614.70" y="557.75" width="0.9" height="0.9" fill="#d8d8d8"/><rect x="617.50" y="557.0" width="2.5" height="2.4" rx="0.4" fill="#1e1e1e"/><rect x="618.30" y="557.75" width="0.9" height="0.9" fill="#d8d8d8"/><rect x="621.10" y="557.0" width="2.5" height="2.4" rx="0.4" fill="#1e1e1e"/><rect x="621.90" y="557.75" width="0.9" height="0.9" fill="#d8d8d8"/><rect x="624.70" y="557.0" width="2.5" height="2.4" rx="0.4" fill="#1e1e1e"/><rect x="625.50" y="557.75" width="0.9" height="0.9" fill="#d8d8d8"/><rect x="628.30" y="557.0" width="2.5" height="2.4" rx="0.4" fill="#1e1e1e"/><rect x="629.10" y="557.75" width="0.9" height="0.9" fill="#d8d8d8"/>
<rect x="566.5" y="498.4" width="17" height="7" rx="0.8" fill="#e8e8e8" stroke="#333" stroke-width="0.8"/>
<rect x="561.6" y="515.6" width="120" height="22.8" fill="#fff" stroke="#222" stroke-width="1"/>
<line x1="564.7" y1="515.6" x2="564.7" y2="538.4" stroke="#333" stroke-width="0.7"/>
<path d="M565.6 529.5 V537.2 H677" fill="none" stroke="#e02020" stroke-width="1"/>
<text x="566" y="524.3" font-size="9.2" font-weight="bold" fill="#111" textLength="20.6" lengthAdjust="spacingAndGlyphs">E-63</text>
<text x="620.8" y="523" font-size="8.2" font-weight="bold" fill="#111" textLength="36.9" lengthAdjust="spacingAndGlyphs">VOEDING</text>
<rect x="663" y="518.5" width="14" height="5" fill="#ccc" stroke="#999" stroke-width="0.4"/>
<text x="566.2" y="536" font-size="4.8" font-weight="bold" fill="#222" textLength="19.3" lengthAdjust="spacingAndGlyphs">346000</text>
<text x="640.3" y="536" font-size="9.6" font-weight="bold" fill="#111" stroke="#111" stroke-width="0.6" textLength="36.5" lengthAdjust="spacingAndGlyphs"><tspan fill="#ff6a13" stroke="#ff6a13">b</tspan>ticino</text>
<rect x="566.5" y="548.3" width="22.5" height="5" fill="#f0f0f0" stroke="#333" stroke-width="0.7"/>
<text x="567.5" y="552.7" font-size="4.6" font-weight="bold" fill="#333" textLength="20.5" lengthAdjust="spacingAndGlyphs">PRIMAIR</text>
<rect x="645" y="548.3" width="26.5" height="5" fill="#f0f0f0" stroke="#333" stroke-width="0.7"/>
<line x1="655.5" y1="548.3" x2="655.5" y2="553.3" stroke="#333" stroke-width="0.6"/><line x1="663.5" y1="548.3" x2="663.5" y2="553.3" stroke="#333" stroke-width="0.6"/>
<text x="646" y="552.7" font-size="4.6" font-weight="bold" fill="#333" textLength="9" lengthAdjust="spacingAndGlyphs">BUS</text>
<text x="657.5" y="552.6" font-size="4.4" fill="#222">2</text><text x="665.6" y="552.6" font-size="4.4" fill="#222">1</text>
<circle cx="574.2" cy="556.8" r="1.7" fill="#2a2a2a"/><line x1="573.1" y1="557.9" x2="575.3000000000001" y2="555.7" stroke="#e8e8e8" stroke-width="0.6"/>
<circle cx="581.3" cy="556.8" r="1.7" fill="#2a2a2a"/><line x1="580.1999999999999" y1="557.9" x2="582.4" y2="555.7" stroke="#e8e8e8" stroke-width="0.6"/>
<circle cx="648" cy="556.8" r="1.7" fill="#2a2a2a"/><line x1="646.9" y1="557.9" x2="649.1" y2="555.7" stroke="#e8e8e8" stroke-width="0.6"/>
<circle cx="655.3" cy="556.8" r="1.7" fill="#2a2a2a"/><line x1="654.1999999999999" y1="557.9" x2="656.4" y2="555.7" stroke="#e8e8e8" stroke-width="0.6"/>
<circle cx="661.3" cy="556.8" r="1.7" fill="#2a2a2a"/><line x1="660.1999999999999" y1="557.9" x2="662.4" y2="555.7" stroke="#e8e8e8" stroke-width="0.6"/>
<circle cx="667.6" cy="556.8" r="1.7" fill="#2a2a2a"/><line x1="666.5" y1="557.9" x2="668.7" y2="555.7" stroke="#e8e8e8" stroke-width="0.6"/>
<path d="M713.4 433.4 V441.5 Q713.4 446.4 708.4 446.4 H431 Q425.5 446.4 425.5 452 V495" stroke="#a8733d" fill="none" stroke-width="1"/>
<path d="M713.4 441.5 Q713.4 446.4 718.4 446.4 H817.2" stroke="#a8733d" fill="none" stroke-width="1"/>
<path d="M719.9 433.4 V444.5 Q719.9 449.2 714.9 449.2 H437.5 Q432.5 449.2 432.5 454.2 V495" stroke="#5863b5" fill="none" stroke-width="1"/>
<path d="M719.9 444.5 Q719.9 449.2 724.9 449.2 H817.2" stroke="#5863b5" fill="none" stroke-width="1"/>
<path d="M698.3 362 L698.3 364.5 L696 378.5" stroke="#a8733d" fill="none" stroke-width="1"/>
<path d="M700.4 362 L700.4 364.5 L701.1 378.5" stroke="#5863b5" fill="none" stroke-width="1"/>
<path d="M709.6 362 L709.6 364.5 L707.4 378.5" stroke="#a8733d" fill="none" stroke-width="1"/>
<path d="M712.2 362 L712.2 364.5 L713.1 378.5" stroke="#5863b5" fill="none" stroke-width="1"/>
<path d="M720.7 362 L720.7 364.5 L719.4 378.5" stroke="#a8733d" fill="none" stroke-width="1"/>
<path d="M723.2 362 L723.2 364.5 L724.6 378.5" stroke="#5863b5" fill="none" stroke-width="1"/>
<path d="M78.4 405 V428.3 Q78.4 433.2 73.4 433.2 H40 Q34.6 433.2 34.6 438.6 V566.5 Q34.6 571.9 40 571.9 H383.3 Q388.8 571.9 388.8 566.5 V488 Q388.8 482.3 394.5 482.3 H408.8 Q414.3 482.3 414.3 487.8 V496" stroke="#a8733d" fill="none" stroke-width="1"/>
<path d="M74.1 405 V431.2 Q74.1 436.1 69.1 436.1 H37 Q31.5 436.1 31.5 441.6 V569.2 Q31.5 574.7 37 574.7 H385.8 Q391.3 574.7 391.3 569.2 V490 Q391.3 484.5 396.8 484.5 H401.4 Q406.9 484.5 406.9 490 V496" stroke="#5863b5" fill="none" stroke-width="1"/>
<path d="M414.5 556 V566.4 Q414.5 571.9 420 571.9 H642.5 Q648 571.9 648 566.4 V557" stroke="#a8733d" fill="none" stroke-width="1"/>
<path d="M407 556 V569.2 Q407 574.7 412.5 574.7 H649.8 Q655.3 574.7 655.3 569.2 V557" stroke="#5863b5" fill="none" stroke-width="1"/>
<path d="M100.5 405 V412.9 Q100.5 417.9 105.5 417.9 H179.4 Q184.4 417.9 184.4 412.9 V406.4" fill="none" stroke="#e83030" stroke-width="1"/>
<path d="M104.6 405 V410.7 Q104.6 415.7 109.6 415.7 H168.5 Q173.5 415.7 173.5 410.7 V406.4" fill="none" stroke="#555" stroke-width="1"/>
<rect x="44.6" y="401.3" width="3.4" height="67.19999999999999" fill="#383c3c"/><rect x="47.9" y="401.3" width="1.7" height="67.19999999999999" fill="#e03a3a"/>
<rect x="44.6" y="477.3" width="3.4" height="67.49999999999994" fill="#383c3c"/><rect x="47.9" y="477.3" width="1.7" height="67.49999999999994" fill="#e03a3a"/>
<text x="736.7" y="491.8" font-size="7" font-weight="bold" fill="#313c98" textLength="31.5" lengthAdjust="spacingAndGlyphs">Peperdijk</text>
<path d="M737.4 494.3 H817.6 L810.8 504.7 H737.4 Z" fill="#fff" stroke="#222" stroke-width="0.7"/>
<path d="M737.4 504.7 H810.8 L800 515.2 H737.4 Z" fill="#27c2ff" stroke="#222" stroke-width="0.7"/>
<path d="M785 515.2 L759.4 540 L767.9 547.8 L800 515.2" fill="#fff" stroke="#222" stroke-width="0.7"/>
<text x="0" y="0" font-size="7" font-weight="bold" fill="#313c98" textLength="50.5" lengthAdjust="spacingAndGlyphs" transform="translate(772.2 554.2) rotate(-45)">Wagenaarstraat</text>
<text x="17.8" y="579" font-size="6.4" fill="#8a8a8a" textLength="48" lengthAdjust="spacingAndGlyphs">www.nelec.com</text>
<text x="763.6" y="579.3" font-size="6.4" fill="#8a8a8a" textLength="60.4" lengthAdjust="spacingAndGlyphs">Copyright Nelec BV</text>
<text x="161.6" y="570.2" font-size="8.3" font-weight="bold" fill="#313c98" textLength="59.5" lengthAdjust="spacingAndGlyphs">Max. 50 meter</text>
<text x="487.5" y="570.2" font-size="8.3" font-weight="bold" fill="#313c98" textLength="54.7" lengthAdjust="spacingAndGlyphs">Max. 2 meter</text>
<text x="452.8" y="433" font-size="8.3" font-weight="bold" fill="#313c98" textLength="105.3" lengthAdjust="spacingAndGlyphs">Max. 100 meter systeem-</text>
<text x="452.8" y="442.9" font-size="8.3" font-weight="bold" fill="#313c98" textLength="113.2" lengthAdjust="spacingAndGlyphs">kabel tot laatste videofoon</text>
<text x="758.9" y="443.4" font-size="8.3" font-weight="bold" fill="#313c98" textLength="58.3" lengthAdjust="spacingAndGlyphs">Naar pagina 2</text>
</svg>
</body></html>
